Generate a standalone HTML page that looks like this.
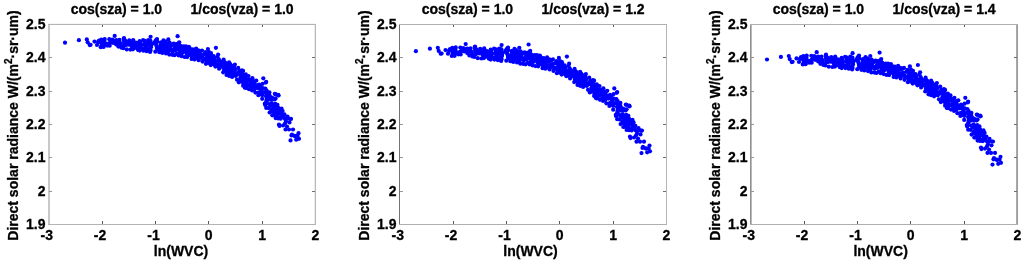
<!DOCTYPE html><html><head><meta charset="utf-8"><style>
html,body{margin:0;padding:0;background:#fff;width:1024px;height:265px;overflow:hidden}
svg{display:block;will-change:transform}
.t{font-family:"Liberation Sans",sans-serif;font-weight:bold;font-size:14px;fill:#000;stroke:#000;stroke-width:0.3px}
</style></head><body>
<svg width="1024" height="265" viewBox="0 0 1024 265" shape-rendering="auto">
<rect width="1024" height="265" fill="#fff"/>
<g fill="#0000ff"><circle cx="98.0" cy="42.1" r="2.1"/><circle cx="99.0" cy="40.5" r="2.1"/><circle cx="101.3" cy="39.5" r="2.1"/><circle cx="104.7" cy="39.0" r="2.1"/><circle cx="109.3" cy="39.2" r="2.1"/><circle cx="112.3" cy="39.5" r="2.1"/><circle cx="116.3" cy="40.1" r="2.1"/><circle cx="119.5" cy="39.9" r="2.1"/><circle cx="123.8" cy="38.8" r="2.1"/><circle cx="129.2" cy="40.4" r="2.1"/><circle cx="133.2" cy="40.8" r="2.1"/><circle cx="133.2" cy="40.0" r="2.1"/><circle cx="139.7" cy="41.1" r="2.1"/><circle cx="143.1" cy="40.2" r="2.1"/><circle cx="148.3" cy="40.1" r="2.1"/><circle cx="150.4" cy="40.8" r="2.1"/><circle cx="155.4" cy="41.2" r="2.1"/><circle cx="156.2" cy="40.2" r="2.1"/><circle cx="161.1" cy="42.3" r="2.1"/><circle cx="165.6" cy="41.7" r="2.1"/><circle cx="169.6" cy="42.7" r="2.1"/><circle cx="173.7" cy="43.7" r="2.1"/><circle cx="177.8" cy="43.7" r="2.1"/><circle cx="178.9" cy="44.4" r="2.1"/><circle cx="183.8" cy="46.4" r="2.1"/><circle cx="186.0" cy="46.4" r="2.1"/><circle cx="188.9" cy="46.9" r="2.1"/><circle cx="192.8" cy="49.4" r="2.1"/><circle cx="196.1" cy="48.6" r="2.1"/><circle cx="202.0" cy="50.5" r="2.1"/><circle cx="205.5" cy="52.2" r="2.1"/><circle cx="209.0" cy="52.2" r="2.1"/><circle cx="211.0" cy="53.1" r="2.1"/><circle cx="213.7" cy="56.2" r="2.1"/><circle cx="218.7" cy="59.1" r="2.1"/><circle cx="223.6" cy="59.6" r="2.1"/><circle cx="229.1" cy="62.4" r="2.1"/><circle cx="234.9" cy="64.5" r="2.1"/><circle cx="238.2" cy="67.9" r="2.1"/><circle cx="241.9" cy="70.3" r="2.1"/><circle cx="243.1" cy="70.9" r="2.1"/><circle cx="245.8" cy="74.4" r="2.1"/><circle cx="248.5" cy="76.0" r="2.1"/><circle cx="252.4" cy="78.2" r="2.1"/><circle cx="256.3" cy="80.6" r="2.1"/><circle cx="259.1" cy="84.5" r="2.1"/><circle cx="260.4" cy="86.3" r="2.1"/><circle cx="262.9" cy="88.1" r="2.1"/><circle cx="266.6" cy="90.5" r="2.1"/><circle cx="269.4" cy="92.3" r="2.1"/><circle cx="274.8" cy="93.8" r="2.1"/><circle cx="278.1" cy="94.8" r="2.1"/><circle cx="278.1" cy="95.2" r="2.1"/><circle cx="275.6" cy="98.4" r="2.1"/><circle cx="274.6" cy="99.4" r="2.1"/><circle cx="275.3" cy="103.8" r="2.1"/><circle cx="277.4" cy="104.8" r="2.1"/><circle cx="281.5" cy="108.6" r="2.1"/><circle cx="282.6" cy="111.0" r="2.1"/><circle cx="284.4" cy="114.3" r="2.1"/><circle cx="287.5" cy="116.5" r="2.1"/><circle cx="291.0" cy="118.9" r="2.1"/><circle cx="290.0" cy="119.0" r="2.1"/><circle cx="287.6" cy="118.5" r="2.1"/><circle cx="284.8" cy="118.8" r="2.1"/><circle cx="280.7" cy="118.7" r="2.1"/><circle cx="278.1" cy="118.5" r="2.1"/><circle cx="275.6" cy="118.1" r="2.1"/><circle cx="272.3" cy="115.3" r="2.1"/><circle cx="269.6" cy="112.5" r="2.1"/><circle cx="266.2" cy="107.9" r="2.1"/><circle cx="265.2" cy="105.0" r="2.1"/><circle cx="264.8" cy="103.7" r="2.1"/><circle cx="262.2" cy="98.8" r="2.1"/><circle cx="258.4" cy="95.2" r="2.1"/><circle cx="255.4" cy="92.6" r="2.1"/><circle cx="252.1" cy="90.5" r="2.1"/><circle cx="249.0" cy="89.2" r="2.1"/><circle cx="246.1" cy="88.0" r="2.1"/><circle cx="244.8" cy="87.7" r="2.1"/><circle cx="243.1" cy="85.7" r="2.1"/><circle cx="238.8" cy="82.3" r="2.1"/><circle cx="237.0" cy="79.7" r="2.1"/><circle cx="232.1" cy="76.9" r="2.1"/><circle cx="229.1" cy="75.9" r="2.1"/><circle cx="226.5" cy="75.0" r="2.1"/><circle cx="223.2" cy="72.3" r="2.1"/><circle cx="219.1" cy="68.7" r="2.1"/><circle cx="215.4" cy="66.6" r="2.1"/><circle cx="210.7" cy="65.1" r="2.1"/><circle cx="205.9" cy="63.8" r="2.1"/><circle cx="202.5" cy="61.6" r="2.1"/><circle cx="198.6" cy="60.2" r="2.1"/><circle cx="194.4" cy="59.4" r="2.1"/><circle cx="191.6" cy="58.9" r="2.1"/><circle cx="187.2" cy="57.1" r="2.1"/><circle cx="184.6" cy="57.0" r="2.1"/><circle cx="181.7" cy="56.2" r="2.1"/><circle cx="178.7" cy="55.4" r="2.1"/><circle cx="174.6" cy="55.2" r="2.1"/><circle cx="172.3" cy="54.8" r="2.1"/><circle cx="169.3" cy="54.6" r="2.1"/><circle cx="166.0" cy="53.5" r="2.1"/><circle cx="162.3" cy="52.9" r="2.1"/><circle cx="159.4" cy="52.2" r="2.1"/><circle cx="155.3" cy="51.7" r="2.1"/><circle cx="150.1" cy="51.9" r="2.1"/><circle cx="146.7" cy="51.2" r="2.1"/><circle cx="143.4" cy="50.7" r="2.1"/><circle cx="139.7" cy="50.6" r="2.1"/><circle cx="137.9" cy="49.8" r="2.1"/><circle cx="132.9" cy="49.3" r="2.1"/><circle cx="130.4" cy="49.6" r="2.1"/><circle cx="126.8" cy="49.4" r="2.1"/><circle cx="123.4" cy="48.2" r="2.1"/><circle cx="121.4" cy="47.7" r="2.1"/><circle cx="118.4" cy="46.6" r="2.1"/><circle cx="109.7" cy="45.7" r="2.1"/><circle cx="107.2" cy="45.6" r="2.1"/><circle cx="103.6" cy="47.0" r="2.1"/><circle cx="100.8" cy="47.2" r="2.1"/><circle cx="97.0" cy="45.0" r="2.1"/><circle cx="194.0" cy="51.8" r="2.1"/><circle cx="266.2" cy="92.4" r="2.1"/><circle cx="269.4" cy="95.1" r="2.1"/><circle cx="150.1" cy="41.2" r="2.1"/><circle cx="196.1" cy="52.8" r="2.1"/><circle cx="268.9" cy="104.0" r="2.1"/><circle cx="239.3" cy="74.3" r="2.1"/><circle cx="224.4" cy="62.0" r="2.1"/><circle cx="193.4" cy="55.3" r="2.1"/><circle cx="184.2" cy="48.7" r="2.1"/><circle cx="133.9" cy="44.7" r="2.1"/><circle cx="163.1" cy="44.7" r="2.1"/><circle cx="222.3" cy="62.2" r="2.1"/><circle cx="118.3" cy="43.0" r="2.1"/><circle cx="194.9" cy="54.1" r="2.1"/><circle cx="193.1" cy="52.6" r="2.1"/><circle cx="124.1" cy="41.5" r="2.1"/><circle cx="271.6" cy="109.9" r="2.1"/><circle cx="226.0" cy="68.4" r="2.1"/><circle cx="103.2" cy="42.4" r="2.1"/><circle cx="283.1" cy="115.7" r="2.1"/><circle cx="214.9" cy="64.2" r="2.1"/><circle cx="144.6" cy="42.5" r="2.1"/><circle cx="148.1" cy="44.1" r="2.1"/><circle cx="234.9" cy="74.0" r="2.1"/><circle cx="195.4" cy="56.2" r="2.1"/><circle cx="251.6" cy="82.3" r="2.1"/><circle cx="186.3" cy="50.6" r="2.1"/><circle cx="134.9" cy="47.6" r="2.1"/><circle cx="218.7" cy="62.4" r="2.1"/><circle cx="191.9" cy="56.6" r="2.1"/><circle cx="185.8" cy="52.0" r="2.1"/><circle cx="220.5" cy="66.8" r="2.1"/><circle cx="182.7" cy="51.7" r="2.1"/><circle cx="143.9" cy="49.5" r="2.1"/><circle cx="266.4" cy="101.6" r="2.1"/><circle cx="241.8" cy="75.5" r="2.1"/><circle cx="241.1" cy="74.4" r="2.1"/><circle cx="140.5" cy="45.9" r="2.1"/><circle cx="250.2" cy="80.3" r="2.1"/><circle cx="207.7" cy="62.5" r="2.1"/><circle cx="163.7" cy="48.9" r="2.1"/><circle cx="102.0" cy="40.6" r="2.1"/><circle cx="274.8" cy="114.9" r="2.1"/><circle cx="219.6" cy="60.9" r="2.1"/><circle cx="201.3" cy="55.0" r="2.1"/><circle cx="218.9" cy="66.5" r="2.1"/><circle cx="247.3" cy="84.9" r="2.1"/><circle cx="198.3" cy="50.4" r="2.1"/><circle cx="239.5" cy="73.0" r="2.1"/><circle cx="262.7" cy="93.1" r="2.1"/><circle cx="254.3" cy="89.4" r="2.1"/><circle cx="179.5" cy="52.5" r="2.1"/><circle cx="225.0" cy="67.0" r="2.1"/><circle cx="277.6" cy="107.5" r="2.1"/><circle cx="164.0" cy="49.8" r="2.1"/><circle cx="204.7" cy="59.0" r="2.1"/><circle cx="142.1" cy="48.7" r="2.1"/><circle cx="187.5" cy="49.1" r="2.1"/><circle cx="224.3" cy="67.6" r="2.1"/><circle cx="206.1" cy="58.4" r="2.1"/><circle cx="254.5" cy="84.5" r="2.1"/><circle cx="176.9" cy="45.6" r="2.1"/><circle cx="207.0" cy="61.3" r="2.1"/><circle cx="213.7" cy="62.6" r="2.1"/><circle cx="208.0" cy="59.7" r="2.1"/><circle cx="164.1" cy="44.2" r="2.1"/><circle cx="187.2" cy="54.2" r="2.1"/><circle cx="125.5" cy="40.9" r="2.1"/><circle cx="207.1" cy="58.7" r="2.1"/><circle cx="112.7" cy="41.4" r="2.1"/><circle cx="227.1" cy="69.6" r="2.1"/><circle cx="183.9" cy="50.3" r="2.1"/><circle cx="272.5" cy="111.6" r="2.1"/><circle cx="146.5" cy="47.4" r="2.1"/><circle cx="190.3" cy="51.1" r="2.1"/><circle cx="142.9" cy="49.0" r="2.1"/><circle cx="260.7" cy="88.9" r="2.1"/><circle cx="139.6" cy="41.9" r="2.1"/><circle cx="254.7" cy="85.2" r="2.1"/><circle cx="135.9" cy="42.6" r="2.1"/><circle cx="239.4" cy="70.8" r="2.1"/><circle cx="168.0" cy="50.7" r="2.1"/><circle cx="132.0" cy="45.7" r="2.1"/><circle cx="102.3" cy="45.1" r="2.1"/><circle cx="266.0" cy="96.2" r="2.1"/><circle cx="151.0" cy="47.2" r="2.1"/><circle cx="175.5" cy="48.5" r="2.1"/><circle cx="219.8" cy="67.2" r="2.1"/><circle cx="127.3" cy="42.7" r="2.1"/><circle cx="244.6" cy="76.3" r="2.1"/><circle cx="245.8" cy="85.4" r="2.1"/><circle cx="230.1" cy="69.3" r="2.1"/><circle cx="145.0" cy="40.8" r="2.1"/><circle cx="278.0" cy="107.5" r="2.1"/><circle cx="226.0" cy="65.3" r="2.1"/><circle cx="194.9" cy="55.9" r="2.1"/><circle cx="184.7" cy="48.0" r="2.1"/><circle cx="207.2" cy="62.8" r="2.1"/><circle cx="172.5" cy="44.3" r="2.1"/><circle cx="154.3" cy="42.6" r="2.1"/><circle cx="268.6" cy="108.1" r="2.1"/><circle cx="225.9" cy="66.1" r="2.1"/><circle cx="104.3" cy="40.5" r="2.1"/><circle cx="231.9" cy="69.6" r="2.1"/><circle cx="151.3" cy="44.6" r="2.1"/><circle cx="202.5" cy="57.7" r="2.1"/><circle cx="176.7" cy="53.8" r="2.1"/><circle cx="157.0" cy="48.4" r="2.1"/><circle cx="167.2" cy="51.0" r="2.1"/><circle cx="181.1" cy="52.8" r="2.1"/><circle cx="144.4" cy="48.6" r="2.1"/><circle cx="113.9" cy="40.5" r="2.1"/><circle cx="182.1" cy="52.9" r="2.1"/><circle cx="134.5" cy="44.2" r="2.1"/><circle cx="222.7" cy="61.8" r="2.1"/><circle cx="228.8" cy="74.0" r="2.1"/><circle cx="145.9" cy="45.0" r="2.1"/><circle cx="200.0" cy="57.9" r="2.1"/><circle cx="172.9" cy="51.3" r="2.1"/><circle cx="234.4" cy="72.3" r="2.1"/><circle cx="275.4" cy="108.9" r="2.1"/><circle cx="170.7" cy="49.1" r="2.1"/><circle cx="163.2" cy="49.6" r="2.1"/><circle cx="229.0" cy="69.5" r="2.1"/><circle cx="189.2" cy="50.2" r="2.1"/><circle cx="266.6" cy="100.9" r="2.1"/><circle cx="240.7" cy="79.1" r="2.1"/><circle cx="220.3" cy="66.0" r="2.1"/><circle cx="164.5" cy="48.4" r="2.1"/><circle cx="207.4" cy="62.1" r="2.1"/><circle cx="129.4" cy="42.7" r="2.1"/><circle cx="163.0" cy="48.4" r="2.1"/><circle cx="228.9" cy="65.0" r="2.1"/><circle cx="213.0" cy="58.4" r="2.1"/><circle cx="160.6" cy="44.9" r="2.1"/><circle cx="213.8" cy="64.4" r="2.1"/><circle cx="220.5" cy="65.5" r="2.1"/><circle cx="194.9" cy="56.3" r="2.1"/><circle cx="180.4" cy="45.8" r="2.1"/><circle cx="268.7" cy="97.4" r="2.1"/><circle cx="148.0" cy="42.9" r="2.1"/><circle cx="266.9" cy="96.3" r="2.1"/><circle cx="176.4" cy="49.0" r="2.1"/><circle cx="135.1" cy="46.8" r="2.1"/><circle cx="235.3" cy="69.6" r="2.1"/><circle cx="228.5" cy="63.7" r="2.1"/><circle cx="139.6" cy="48.9" r="2.1"/><circle cx="232.0" cy="74.2" r="2.1"/><circle cx="229.1" cy="67.4" r="2.1"/><circle cx="198.0" cy="56.8" r="2.1"/><circle cx="251.0" cy="88.0" r="2.1"/><circle cx="160.7" cy="43.0" r="2.1"/><circle cx="272.2" cy="99.5" r="2.1"/><circle cx="116.2" cy="44.5" r="2.1"/><circle cx="243.4" cy="83.7" r="2.1"/><circle cx="253.0" cy="85.9" r="2.1"/><circle cx="210.0" cy="63.4" r="2.1"/><circle cx="238.5" cy="72.6" r="2.1"/><circle cx="242.8" cy="78.1" r="2.1"/><circle cx="154.6" cy="42.9" r="2.1"/><circle cx="125.5" cy="44.9" r="2.1"/><circle cx="136.1" cy="47.7" r="2.1"/><circle cx="209.3" cy="56.5" r="2.1"/><circle cx="175.8" cy="44.4" r="2.1"/><circle cx="163.6" cy="48.8" r="2.1"/><circle cx="164.5" cy="50.6" r="2.1"/><circle cx="272.9" cy="98.5" r="2.1"/><circle cx="175.7" cy="44.4" r="2.1"/><circle cx="217.2" cy="61.2" r="2.1"/><circle cx="233.2" cy="73.6" r="2.1"/><circle cx="270.3" cy="97.2" r="2.1"/><circle cx="159.8" cy="48.5" r="2.1"/><circle cx="150.5" cy="50.5" r="2.1"/><circle cx="157.3" cy="41.6" r="2.1"/><circle cx="157.8" cy="49.7" r="2.1"/><circle cx="244.1" cy="75.9" r="2.1"/><circle cx="243.5" cy="78.4" r="2.1"/><circle cx="271.7" cy="111.2" r="2.1"/><circle cx="150.1" cy="42.7" r="2.1"/><circle cx="140.1" cy="44.9" r="2.1"/><circle cx="219.2" cy="65.2" r="2.1"/><circle cx="254.2" cy="81.4" r="2.1"/><circle cx="189.6" cy="48.2" r="2.1"/><circle cx="234.6" cy="74.6" r="2.1"/><circle cx="281.4" cy="112.9" r="2.1"/><circle cx="121.4" cy="46.2" r="2.1"/><circle cx="103.9" cy="44.9" r="2.1"/><circle cx="103.8" cy="41.2" r="2.1"/><circle cx="111.5" cy="41.7" r="2.1"/><circle cx="185.8" cy="47.3" r="2.1"/><circle cx="180.1" cy="46.3" r="2.1"/><circle cx="165.2" cy="44.9" r="2.1"/><circle cx="274.5" cy="106.1" r="2.1"/><circle cx="251.4" cy="81.0" r="2.1"/><circle cx="155.7" cy="42.5" r="2.1"/><circle cx="166.9" cy="48.9" r="2.1"/><circle cx="131.1" cy="45.4" r="2.1"/><circle cx="230.9" cy="73.8" r="2.1"/><circle cx="124.4" cy="45.2" r="2.1"/><circle cx="140.0" cy="42.5" r="2.1"/><circle cx="181.9" cy="46.7" r="2.1"/><circle cx="190.0" cy="51.5" r="2.1"/><circle cx="119.5" cy="42.8" r="2.1"/><circle cx="166.9" cy="47.1" r="2.1"/><circle cx="240.9" cy="81.4" r="2.1"/><circle cx="182.1" cy="48.8" r="2.1"/><circle cx="181.7" cy="51.6" r="2.1"/><circle cx="256.7" cy="86.7" r="2.1"/><circle cx="107.1" cy="44.1" r="2.1"/><circle cx="128.1" cy="44.7" r="2.1"/><circle cx="192.3" cy="52.7" r="2.1"/><circle cx="231.5" cy="68.9" r="2.1"/><circle cx="141.5" cy="44.9" r="2.1"/><circle cx="113.8" cy="41.2" r="2.1"/><circle cx="278.2" cy="109.4" r="2.1"/><circle cx="186.5" cy="53.5" r="2.1"/><circle cx="277.4" cy="114.1" r="2.1"/><circle cx="217.2" cy="61.9" r="2.1"/><circle cx="117.2" cy="43.0" r="2.1"/><circle cx="214.3" cy="61.0" r="2.1"/><circle cx="170.2" cy="46.3" r="2.1"/><circle cx="269.5" cy="99.4" r="2.1"/><circle cx="224.4" cy="68.5" r="2.1"/><circle cx="145.0" cy="45.5" r="2.1"/><circle cx="110.2" cy="42.8" r="2.1"/><circle cx="271.9" cy="97.6" r="2.1"/><circle cx="197.2" cy="51.6" r="2.1"/><circle cx="113.2" cy="42.9" r="2.1"/><circle cx="217.0" cy="62.2" r="2.1"/><circle cx="188.4" cy="53.5" r="2.1"/><circle cx="129.4" cy="43.2" r="2.1"/><circle cx="231.2" cy="69.5" r="2.1"/><circle cx="132.0" cy="46.7" r="2.1"/><circle cx="271.5" cy="103.1" r="2.1"/><circle cx="274.0" cy="115.1" r="2.1"/><circle cx="181.1" cy="53.1" r="2.1"/><circle cx="171.7" cy="44.9" r="2.1"/><circle cx="266.7" cy="99.2" r="2.1"/><circle cx="103.8" cy="41.8" r="2.1"/><circle cx="249.7" cy="79.6" r="2.1"/><circle cx="216.4" cy="63.2" r="2.1"/><circle cx="150.4" cy="46.6" r="2.1"/><circle cx="162.0" cy="50.7" r="2.1"/><circle cx="264.7" cy="92.3" r="2.1"/><circle cx="204.3" cy="54.1" r="2.1"/><circle cx="259.7" cy="92.3" r="2.1"/><circle cx="149.2" cy="49.4" r="2.1"/><circle cx="146.2" cy="48.9" r="2.1"/><circle cx="99.3" cy="42.0" r="2.1"/><circle cx="131.7" cy="42.9" r="2.1"/><circle cx="180.1" cy="50.9" r="2.1"/><circle cx="261.7" cy="90.5" r="2.1"/><circle cx="161.8" cy="45.6" r="2.1"/><circle cx="196.0" cy="51.0" r="2.1"/><circle cx="227.0" cy="72.9" r="2.1"/><circle cx="135.1" cy="44.4" r="2.1"/><circle cx="180.4" cy="50.0" r="2.1"/><circle cx="191.7" cy="53.2" r="2.1"/><circle cx="188.8" cy="48.8" r="2.1"/><circle cx="211.1" cy="55.5" r="2.1"/><circle cx="248.8" cy="79.8" r="2.1"/><circle cx="149.6" cy="42.2" r="2.1"/><circle cx="162.1" cy="46.1" r="2.1"/><circle cx="179.8" cy="53.0" r="2.1"/><circle cx="212.5" cy="58.2" r="2.1"/><circle cx="215.6" cy="61.4" r="2.1"/><circle cx="151.8" cy="44.2" r="2.1"/><circle cx="174.8" cy="50.5" r="2.1"/><circle cx="188.6" cy="53.5" r="2.1"/><circle cx="207.9" cy="55.5" r="2.1"/><circle cx="278.6" cy="117.2" r="2.1"/><circle cx="109.3" cy="43.1" r="2.1"/><circle cx="273.0" cy="108.8" r="2.1"/><circle cx="232.8" cy="75.4" r="2.1"/><circle cx="232.0" cy="69.8" r="2.1"/><circle cx="224.8" cy="70.6" r="2.1"/><circle cx="172.1" cy="49.5" r="2.1"/><circle cx="246.1" cy="84.1" r="2.1"/><circle cx="201.3" cy="55.1" r="2.1"/><circle cx="144.9" cy="44.1" r="2.1"/><circle cx="145.7" cy="44.3" r="2.1"/><circle cx="160.6" cy="46.1" r="2.1"/><circle cx="162.1" cy="47.7" r="2.1"/><circle cx="168.3" cy="52.0" r="2.1"/><circle cx="177.4" cy="47.3" r="2.1"/><circle cx="150.8" cy="46.2" r="2.1"/><circle cx="150.3" cy="49.8" r="2.1"/><circle cx="279.5" cy="111.1" r="2.1"/><circle cx="139.8" cy="43.9" r="2.1"/><circle cx="116.0" cy="42.5" r="2.1"/><circle cx="193.3" cy="52.6" r="2.1"/><circle cx="210.7" cy="61.8" r="2.1"/><circle cx="193.1" cy="56.0" r="2.1"/><circle cx="254.4" cy="83.1" r="2.1"/><circle cx="261.2" cy="92.3" r="2.1"/><circle cx="207.2" cy="54.6" r="2.1"/><circle cx="162.1" cy="45.6" r="2.1"/><circle cx="248.5" cy="85.5" r="2.1"/><circle cx="114.7" cy="41.8" r="2.1"/><circle cx="252.5" cy="86.4" r="2.1"/><circle cx="160.7" cy="50.0" r="2.1"/><circle cx="207.0" cy="59.9" r="2.1"/><circle cx="276.2" cy="114.5" r="2.1"/><circle cx="146.9" cy="45.7" r="2.1"/><circle cx="225.2" cy="62.5" r="2.1"/><circle cx="274.4" cy="111.8" r="2.1"/><circle cx="167.7" cy="46.0" r="2.1"/><circle cx="206.3" cy="54.2" r="2.1"/><circle cx="104.7" cy="42.6" r="2.1"/><circle cx="253.8" cy="86.2" r="2.1"/><circle cx="224.0" cy="69.5" r="2.1"/><circle cx="125.2" cy="45.1" r="2.1"/><circle cx="205.9" cy="58.2" r="2.1"/><circle cx="281.7" cy="115.9" r="2.1"/><circle cx="137.8" cy="46.8" r="2.1"/><circle cx="168.0" cy="47.0" r="2.1"/><circle cx="250.8" cy="83.4" r="2.1"/><circle cx="277.0" cy="110.2" r="2.1"/><circle cx="199.5" cy="51.6" r="2.1"/><circle cx="245.6" cy="75.9" r="2.1"/><circle cx="228.5" cy="72.2" r="2.1"/><circle cx="157.5" cy="47.4" r="2.1"/><circle cx="267.9" cy="94.6" r="2.1"/><circle cx="137.4" cy="46.0" r="2.1"/><circle cx="270.6" cy="106.0" r="2.1"/><circle cx="186.0" cy="49.1" r="2.1"/><circle cx="220.9" cy="65.4" r="2.1"/><circle cx="235.1" cy="72.8" r="2.1"/><circle cx="256.8" cy="85.4" r="2.1"/><circle cx="223.8" cy="66.5" r="2.1"/><circle cx="196.0" cy="52.0" r="2.1"/><circle cx="176.1" cy="50.0" r="2.1"/><circle cx="225.0" cy="63.5" r="2.1"/><circle cx="174.9" cy="47.6" r="2.1"/><circle cx="245.7" cy="81.3" r="2.1"/><circle cx="250.1" cy="84.3" r="2.1"/><circle cx="158.3" cy="49.2" r="2.1"/><circle cx="231.7" cy="70.4" r="2.1"/><circle cx="272.1" cy="98.7" r="2.1"/><circle cx="230.0" cy="74.3" r="2.1"/><circle cx="273.7" cy="106.2" r="2.1"/><circle cx="149.8" cy="41.8" r="2.1"/><circle cx="212.9" cy="61.9" r="2.1"/><circle cx="235.8" cy="76.0" r="2.1"/><circle cx="191.7" cy="51.7" r="2.1"/><circle cx="232.3" cy="65.9" r="2.1"/><circle cx="124.4" cy="43.6" r="2.1"/><circle cx="137.2" cy="43.4" r="2.1"/><circle cx="227.1" cy="67.7" r="2.1"/><circle cx="244.3" cy="76.1" r="2.1"/><circle cx="275.7" cy="112.7" r="2.1"/><circle cx="124.0" cy="40.1" r="2.1"/><circle cx="258.5" cy="92.6" r="2.1"/><circle cx="219.4" cy="62.9" r="2.1"/><circle cx="272.6" cy="104.3" r="2.1"/><circle cx="197.1" cy="56.5" r="2.1"/><circle cx="181.3" cy="47.7" r="2.1"/><circle cx="157.1" cy="47.3" r="2.1"/><circle cx="257.5" cy="88.2" r="2.1"/><circle cx="240.4" cy="77.8" r="2.1"/><circle cx="170.9" cy="45.4" r="2.1"/><circle cx="200.7" cy="51.1" r="2.1"/><circle cx="143.6" cy="49.3" r="2.1"/><circle cx="101.6" cy="44.9" r="2.1"/><circle cx="246.5" cy="81.5" r="2.1"/><circle cx="283.6" cy="117.1" r="2.1"/><circle cx="156.5" cy="45.9" r="2.1"/><circle cx="146.7" cy="49.6" r="2.1"/><circle cx="188.1" cy="48.8" r="2.1"/><circle cx="279.6" cy="113.1" r="2.1"/><circle cx="105.7" cy="44.3" r="2.1"/><circle cx="245.1" cy="76.1" r="2.1"/><circle cx="246.8" cy="79.8" r="2.1"/><circle cx="251.8" cy="82.2" r="2.1"/><circle cx="209.8" cy="56.8" r="2.1"/><circle cx="210.0" cy="63.6" r="2.1"/><circle cx="219.3" cy="61.0" r="2.1"/><circle cx="200.3" cy="55.6" r="2.1"/><circle cx="245.7" cy="78.3" r="2.1"/><circle cx="228.9" cy="64.9" r="2.1"/><circle cx="276.8" cy="108.4" r="2.1"/><circle cx="161.2" cy="49.5" r="2.1"/><circle cx="234.9" cy="75.1" r="2.1"/><circle cx="156.0" cy="44.3" r="2.1"/><circle cx="198.2" cy="52.3" r="2.1"/><circle cx="166.9" cy="43.5" r="2.1"/><circle cx="267.2" cy="93.6" r="2.1"/><circle cx="227.2" cy="65.3" r="2.1"/><circle cx="279.3" cy="111.4" r="2.1"/><circle cx="166.5" cy="43.3" r="2.1"/><circle cx="189.8" cy="48.8" r="2.1"/><circle cx="133.5" cy="48.1" r="2.1"/><circle cx="228.4" cy="67.2" r="2.1"/><circle cx="227.0" cy="71.1" r="2.1"/><circle cx="225.6" cy="65.3" r="2.1"/><circle cx="209.2" cy="57.9" r="2.1"/><circle cx="196.5" cy="58.0" r="2.1"/><circle cx="137.3" cy="47.8" r="2.1"/><circle cx="283.0" cy="116.4" r="2.1"/><circle cx="179.3" cy="49.2" r="2.1"/><circle cx="203.3" cy="59.8" r="2.1"/><circle cx="102.7" cy="44.0" r="2.1"/><circle cx="229.6" cy="69.9" r="2.1"/><circle cx="270.8" cy="105.1" r="2.1"/><circle cx="140.3" cy="48.2" r="2.1"/><circle cx="244.9" cy="81.9" r="2.1"/><circle cx="165.4" cy="45.2" r="2.1"/><circle cx="238.2" cy="74.1" r="2.1"/><circle cx="234.2" cy="67.0" r="2.1"/><circle cx="275.4" cy="110.8" r="2.1"/><circle cx="216.2" cy="63.9" r="2.1"/><circle cx="246.2" cy="84.4" r="2.1"/><circle cx="232.2" cy="70.6" r="2.1"/><circle cx="211.4" cy="58.6" r="2.1"/><circle cx="268.1" cy="97.7" r="2.1"/><circle cx="195.5" cy="55.0" r="2.1"/><circle cx="261.5" cy="94.6" r="2.1"/><circle cx="162.7" cy="47.7" r="2.1"/><circle cx="184.2" cy="48.2" r="2.1"/><circle cx="268.6" cy="93.9" r="2.1"/><circle cx="223.4" cy="61.9" r="2.1"/><circle cx="189.4" cy="54.6" r="2.1"/><circle cx="248.5" cy="79.6" r="2.1"/><circle cx="243.8" cy="81.1" r="2.1"/><circle cx="230.2" cy="64.2" r="2.1"/><circle cx="250.3" cy="82.0" r="2.1"/><circle cx="262.4" cy="95.1" r="2.1"/><circle cx="172.0" cy="51.0" r="2.1"/><circle cx="223.8" cy="65.7" r="2.1"/><circle cx="133.4" cy="44.7" r="2.1"/><circle cx="175.4" cy="44.8" r="2.1"/><circle cx="131.6" cy="43.3" r="2.1"/><circle cx="214.3" cy="58.3" r="2.1"/><circle cx="281.8" cy="115.3" r="2.1"/><circle cx="227.7" cy="73.4" r="2.1"/><circle cx="120.7" cy="43.3" r="2.1"/><circle cx="271.6" cy="111.0" r="2.1"/><circle cx="235.2" cy="74.1" r="2.1"/><circle cx="283.2" cy="115.9" r="2.1"/><circle cx="197.7" cy="51.0" r="2.1"/><circle cx="190.7" cy="55.2" r="2.1"/><circle cx="243.5" cy="76.1" r="2.1"/><circle cx="247.4" cy="80.8" r="2.1"/><circle cx="242.2" cy="72.7" r="2.1"/><circle cx="260.1" cy="92.3" r="2.1"/><circle cx="139.8" cy="43.7" r="2.1"/><circle cx="241.4" cy="74.4" r="2.1"/><circle cx="198.5" cy="55.9" r="2.1"/><circle cx="275.7" cy="115.7" r="2.1"/><circle cx="65.0" cy="42.7" r="2.1"/><circle cx="78.9" cy="40.2" r="2.1"/><circle cx="86.8" cy="39.4" r="2.1"/><circle cx="87.7" cy="42.3" r="2.1"/><circle cx="89.7" cy="45.1" r="2.1"/><circle cx="94.5" cy="41.6" r="2.1"/><circle cx="90.6" cy="44.8" r="2.1"/><circle cx="114.7" cy="35.9" r="2.1"/><circle cx="124.0" cy="38.2" r="2.1"/><circle cx="150.6" cy="36.8" r="2.1"/><circle cx="157.0" cy="39.0" r="2.1"/><circle cx="163.5" cy="40.3" r="2.1"/><circle cx="168.3" cy="39.4" r="2.1"/><circle cx="177.6" cy="36.2" r="2.1"/><circle cx="179.2" cy="42.3" r="2.1"/><circle cx="207.9" cy="49.1" r="2.1"/><circle cx="215.9" cy="47.8" r="2.1"/><circle cx="218.1" cy="54.6" r="2.1"/><circle cx="217.5" cy="56.8" r="2.1"/><circle cx="263.3" cy="78.3" r="2.1"/><circle cx="266.2" cy="81.9" r="2.1"/><circle cx="262.6" cy="83.8" r="2.1"/><circle cx="265.7" cy="82.6" r="2.1"/><circle cx="265.4" cy="88.7" r="2.1"/><circle cx="278.6" cy="95.5" r="2.1"/><circle cx="275.4" cy="94.2" r="2.1"/><circle cx="286.0" cy="121.5" r="2.1"/><circle cx="289.5" cy="122.5" r="2.1"/><circle cx="285.0" cy="123.5" r="2.1"/><circle cx="279.0" cy="124.5" r="2.1"/><circle cx="279.5" cy="126.0" r="2.1"/><circle cx="283.0" cy="125.5" r="2.1"/><circle cx="287.0" cy="126.5" r="2.1"/><circle cx="285.5" cy="129.5" r="2.1"/><circle cx="289.0" cy="129.5" r="2.1"/><circle cx="293.0" cy="129.5" r="2.1"/><circle cx="298.5" cy="133.2" r="2.1"/><circle cx="292.0" cy="134.5" r="2.1"/><circle cx="295.0" cy="136.0" r="2.1"/><circle cx="291.5" cy="135.5" r="2.1"/><circle cx="294.8" cy="135.9" r="2.1"/><circle cx="297.6" cy="135.9" r="2.1"/><circle cx="296.2" cy="139.7" r="2.1"/><circle cx="299.0" cy="138.8" r="2.1"/><circle cx="290.5" cy="140.4" r="2.1"/></g>
<g shape-rendering="crispEdges"><rect x="48" y="23" width="1" height="202" fill="#c8c8c8"/><rect x="49" y="23" width="1" height="202" fill="#c8c8c8"/><rect x="314" y="23" width="1" height="202" fill="#ebebeb"/><rect x="315" y="23" width="1" height="202" fill="#b9b9b9"/><rect x="48" y="23" width="268" height="1" fill="#f5f5f5"/><rect x="48" y="24" width="268" height="1" fill="#b4b4b4"/><rect x="48" y="224" width="268" height="1" fill="#b4b4b4"/></g>
<g fill="#5a5a5a" shape-rendering="crispEdges"><rect x="102" y="221" width="1" height="3"/><rect x="102" y="25" width="1" height="2"/><rect x="155" y="221" width="1" height="3"/><rect x="155" y="25" width="1" height="2"/><rect x="208" y="221" width="1" height="3"/><rect x="208" y="25" width="1" height="2"/><rect x="262" y="221" width="1" height="3"/><rect x="262" y="25" width="1" height="2"/></g>
<g shape-rendering="crispEdges"><rect x="49" y="191" width="3" height="1" fill="#969696"/><rect x="312" y="191" width="3" height="1" fill="#6e6e6e"/><rect x="49" y="157" width="3" height="1" fill="#969696"/><rect x="312" y="157" width="3" height="1" fill="#6e6e6e"/><rect x="49" y="124" width="3" height="1" fill="#969696"/><rect x="312" y="124" width="3" height="1" fill="#6e6e6e"/><rect x="49" y="91" width="3" height="1" fill="#969696"/><rect x="312" y="91" width="3" height="1" fill="#6e6e6e"/><rect x="49" y="57" width="3" height="1" fill="#969696"/><rect x="312" y="57" width="3" height="1" fill="#6e6e6e"/></g>
<text x="46.7" y="240" text-anchor="middle" class="t">-3</text>
<text x="100.1" y="240" text-anchor="middle" class="t">-2</text>
<text x="153.5" y="240" text-anchor="middle" class="t">-1</text>
<text x="208.7" y="240" text-anchor="middle" class="t">0</text>
<text x="262.1" y="240" text-anchor="middle" class="t">1</text>
<text x="315.5" y="240" text-anchor="middle" class="t">2</text>
<text x="45.5" y="229.0" text-anchor="end" class="t">1.9</text>
<text x="45.5" y="195.7" text-anchor="end" class="t">2</text>
<text x="45.5" y="162.3" text-anchor="end" class="t">2.1</text>
<text x="45.5" y="129.0" text-anchor="end" class="t">2.2</text>
<text x="45.5" y="95.7" text-anchor="end" class="t">2.3</text>
<text x="45.5" y="62.3" text-anchor="end" class="t">2.4</text>
<text x="45.5" y="29.0" text-anchor="end" class="t">2.5</text>
<text x="181.0" y="256.4" text-anchor="middle" class="t">ln(WVC)</text>
<text x="70.7" y="14.2" class="t">cos(sza) = 1.0</text>
<text x="190.5" y="14.2" class="t">1/cos(vza) = 1.0</text>
<text transform="translate(17.9,125.5) rotate(-90)" text-anchor="middle" class="t">Direct solar radiance W/(m<tspan dy="-6" font-size="10">2</tspan><tspan dy="6">·sr·um)</tspan></text>
<g fill="#0000ff"><circle cx="449.0" cy="50.7" r="2.1"/><circle cx="450.0" cy="49.0" r="2.1"/><circle cx="452.3" cy="47.9" r="2.1"/><circle cx="455.7" cy="47.4" r="2.1"/><circle cx="460.3" cy="47.6" r="2.1"/><circle cx="463.3" cy="48.0" r="2.1"/><circle cx="467.3" cy="48.5" r="2.1"/><circle cx="470.5" cy="48.4" r="2.1"/><circle cx="474.8" cy="47.2" r="2.1"/><circle cx="480.2" cy="48.9" r="2.1"/><circle cx="484.2" cy="49.3" r="2.1"/><circle cx="484.2" cy="48.4" r="2.1"/><circle cx="490.7" cy="49.7" r="2.1"/><circle cx="494.1" cy="48.7" r="2.1"/><circle cx="499.3" cy="48.6" r="2.1"/><circle cx="501.4" cy="49.3" r="2.1"/><circle cx="506.4" cy="49.7" r="2.1"/><circle cx="507.2" cy="48.7" r="2.1"/><circle cx="512.1" cy="50.8" r="2.1"/><circle cx="516.6" cy="50.3" r="2.1"/><circle cx="520.6" cy="51.3" r="2.1"/><circle cx="524.7" cy="52.3" r="2.1"/><circle cx="528.8" cy="52.3" r="2.1"/><circle cx="529.9" cy="53.0" r="2.1"/><circle cx="534.8" cy="55.1" r="2.1"/><circle cx="537.0" cy="55.2" r="2.1"/><circle cx="539.9" cy="55.7" r="2.1"/><circle cx="543.8" cy="58.2" r="2.1"/><circle cx="547.1" cy="57.4" r="2.1"/><circle cx="553.0" cy="59.4" r="2.1"/><circle cx="556.5" cy="61.2" r="2.1"/><circle cx="560.0" cy="61.1" r="2.1"/><circle cx="562.0" cy="62.2" r="2.1"/><circle cx="564.7" cy="65.4" r="2.1"/><circle cx="569.7" cy="68.4" r="2.1"/><circle cx="574.6" cy="68.9" r="2.1"/><circle cx="580.1" cy="71.8" r="2.1"/><circle cx="585.9" cy="74.0" r="2.1"/><circle cx="589.2" cy="77.5" r="2.1"/><circle cx="592.9" cy="80.0" r="2.1"/><circle cx="594.1" cy="80.7" r="2.1"/><circle cx="596.8" cy="84.3" r="2.1"/><circle cx="599.5" cy="86.0" r="2.1"/><circle cx="603.4" cy="88.3" r="2.1"/><circle cx="607.3" cy="90.8" r="2.1"/><circle cx="610.1" cy="94.8" r="2.1"/><circle cx="611.4" cy="96.7" r="2.1"/><circle cx="613.9" cy="98.6" r="2.1"/><circle cx="617.6" cy="101.1" r="2.1"/><circle cx="620.4" cy="102.9" r="2.1"/><circle cx="625.8" cy="104.5" r="2.1"/><circle cx="629.1" cy="105.6" r="2.1"/><circle cx="629.1" cy="105.9" r="2.1"/><circle cx="626.6" cy="109.3" r="2.1"/><circle cx="625.6" cy="110.4" r="2.1"/><circle cx="626.3" cy="114.9" r="2.1"/><circle cx="628.4" cy="115.9" r="2.1"/><circle cx="632.5" cy="119.9" r="2.1"/><circle cx="633.6" cy="122.4" r="2.1"/><circle cx="635.4" cy="125.9" r="2.1"/><circle cx="638.5" cy="128.2" r="2.1"/><circle cx="642.0" cy="130.6" r="2.1"/><circle cx="641.0" cy="130.7" r="2.1"/><circle cx="638.6" cy="130.3" r="2.1"/><circle cx="635.8" cy="130.5" r="2.1"/><circle cx="631.7" cy="130.4" r="2.1"/><circle cx="629.1" cy="130.2" r="2.1"/><circle cx="626.6" cy="129.9" r="2.1"/><circle cx="623.3" cy="127.0" r="2.1"/><circle cx="620.6" cy="124.1" r="2.1"/><circle cx="617.2" cy="119.2" r="2.1"/><circle cx="616.2" cy="116.2" r="2.1"/><circle cx="615.8" cy="114.8" r="2.1"/><circle cx="613.2" cy="109.7" r="2.1"/><circle cx="609.4" cy="106.0" r="2.1"/><circle cx="606.4" cy="103.3" r="2.1"/><circle cx="603.1" cy="101.0" r="2.1"/><circle cx="600.0" cy="99.8" r="2.1"/><circle cx="597.1" cy="98.4" r="2.1"/><circle cx="595.8" cy="98.1" r="2.1"/><circle cx="594.1" cy="96.0" r="2.1"/><circle cx="589.8" cy="92.5" r="2.1"/><circle cx="588.0" cy="89.8" r="2.1"/><circle cx="583.1" cy="86.9" r="2.1"/><circle cx="580.1" cy="85.8" r="2.1"/><circle cx="577.5" cy="85.0" r="2.1"/><circle cx="574.2" cy="82.1" r="2.1"/><circle cx="570.1" cy="78.4" r="2.1"/><circle cx="566.4" cy="76.2" r="2.1"/><circle cx="561.7" cy="74.6" r="2.1"/><circle cx="556.9" cy="73.2" r="2.1"/><circle cx="553.5" cy="70.9" r="2.1"/><circle cx="549.6" cy="69.5" r="2.1"/><circle cx="545.4" cy="68.7" r="2.1"/><circle cx="542.6" cy="68.2" r="2.1"/><circle cx="538.2" cy="66.3" r="2.1"/><circle cx="535.6" cy="66.1" r="2.1"/><circle cx="532.7" cy="65.4" r="2.1"/><circle cx="529.7" cy="64.5" r="2.1"/><circle cx="525.6" cy="64.3" r="2.1"/><circle cx="523.3" cy="63.9" r="2.1"/><circle cx="520.3" cy="63.7" r="2.1"/><circle cx="517.0" cy="62.5" r="2.1"/><circle cx="513.3" cy="61.9" r="2.1"/><circle cx="510.4" cy="61.2" r="2.1"/><circle cx="506.3" cy="60.7" r="2.1"/><circle cx="501.1" cy="60.9" r="2.1"/><circle cx="497.7" cy="60.1" r="2.1"/><circle cx="494.4" cy="59.6" r="2.1"/><circle cx="490.7" cy="59.6" r="2.1"/><circle cx="488.9" cy="58.7" r="2.1"/><circle cx="483.9" cy="58.1" r="2.1"/><circle cx="481.4" cy="58.5" r="2.1"/><circle cx="477.8" cy="58.2" r="2.1"/><circle cx="474.4" cy="57.0" r="2.1"/><circle cx="472.4" cy="56.5" r="2.1"/><circle cx="469.4" cy="55.4" r="2.1"/><circle cx="460.7" cy="54.4" r="2.1"/><circle cx="458.2" cy="54.3" r="2.1"/><circle cx="454.6" cy="55.8" r="2.1"/><circle cx="451.8" cy="56.0" r="2.1"/><circle cx="448.0" cy="53.7" r="2.1"/><circle cx="545.0" cy="60.8" r="2.1"/><circle cx="617.2" cy="103.0" r="2.1"/><circle cx="620.4" cy="105.9" r="2.1"/><circle cx="501.1" cy="49.7" r="2.1"/><circle cx="547.1" cy="61.8" r="2.1"/><circle cx="619.9" cy="115.2" r="2.1"/><circle cx="590.3" cy="84.2" r="2.1"/><circle cx="575.4" cy="71.3" r="2.1"/><circle cx="544.4" cy="64.4" r="2.1"/><circle cx="535.2" cy="57.5" r="2.1"/><circle cx="484.9" cy="53.3" r="2.1"/><circle cx="514.1" cy="53.4" r="2.1"/><circle cx="573.3" cy="71.6" r="2.1"/><circle cx="469.3" cy="51.6" r="2.1"/><circle cx="545.9" cy="63.1" r="2.1"/><circle cx="544.1" cy="61.6" r="2.1"/><circle cx="475.1" cy="50.0" r="2.1"/><circle cx="622.6" cy="121.3" r="2.1"/><circle cx="577.0" cy="78.0" r="2.1"/><circle cx="454.2" cy="50.9" r="2.1"/><circle cx="634.1" cy="127.3" r="2.1"/><circle cx="565.9" cy="73.7" r="2.1"/><circle cx="495.6" cy="51.1" r="2.1"/><circle cx="499.1" cy="52.8" r="2.1"/><circle cx="585.9" cy="83.9" r="2.1"/><circle cx="546.4" cy="65.4" r="2.1"/><circle cx="602.6" cy="92.5" r="2.1"/><circle cx="537.3" cy="59.5" r="2.1"/><circle cx="485.9" cy="56.4" r="2.1"/><circle cx="569.7" cy="71.8" r="2.1"/><circle cx="542.9" cy="65.7" r="2.1"/><circle cx="536.8" cy="60.9" r="2.1"/><circle cx="571.5" cy="76.4" r="2.1"/><circle cx="533.7" cy="60.7" r="2.1"/><circle cx="494.9" cy="58.3" r="2.1"/><circle cx="617.4" cy="112.6" r="2.1"/><circle cx="592.8" cy="85.4" r="2.1"/><circle cx="592.1" cy="84.3" r="2.1"/><circle cx="491.5" cy="54.6" r="2.1"/><circle cx="601.2" cy="90.4" r="2.1"/><circle cx="558.7" cy="71.9" r="2.1"/><circle cx="514.7" cy="57.7" r="2.1"/><circle cx="453.0" cy="49.1" r="2.1"/><circle cx="625.8" cy="126.5" r="2.1"/><circle cx="570.6" cy="70.2" r="2.1"/><circle cx="552.3" cy="64.1" r="2.1"/><circle cx="569.9" cy="76.0" r="2.1"/><circle cx="598.3" cy="95.2" r="2.1"/><circle cx="549.3" cy="59.3" r="2.1"/><circle cx="590.5" cy="82.8" r="2.1"/><circle cx="613.7" cy="103.8" r="2.1"/><circle cx="605.3" cy="99.9" r="2.1"/><circle cx="530.5" cy="61.5" r="2.1"/><circle cx="576.0" cy="76.6" r="2.1"/><circle cx="628.6" cy="118.8" r="2.1"/><circle cx="515.0" cy="58.6" r="2.1"/><circle cx="555.7" cy="68.2" r="2.1"/><circle cx="493.1" cy="57.5" r="2.1"/><circle cx="538.5" cy="57.9" r="2.1"/><circle cx="575.3" cy="77.2" r="2.1"/><circle cx="557.1" cy="67.7" r="2.1"/><circle cx="605.5" cy="94.9" r="2.1"/><circle cx="527.9" cy="54.3" r="2.1"/><circle cx="558.0" cy="70.6" r="2.1"/><circle cx="564.7" cy="72.0" r="2.1"/><circle cx="559.0" cy="69.0" r="2.1"/><circle cx="515.1" cy="52.8" r="2.1"/><circle cx="538.2" cy="63.3" r="2.1"/><circle cx="476.5" cy="49.4" r="2.1"/><circle cx="558.1" cy="68.0" r="2.1"/><circle cx="463.7" cy="49.9" r="2.1"/><circle cx="578.1" cy="79.3" r="2.1"/><circle cx="534.9" cy="59.2" r="2.1"/><circle cx="623.5" cy="123.1" r="2.1"/><circle cx="497.5" cy="56.2" r="2.1"/><circle cx="541.3" cy="60.0" r="2.1"/><circle cx="493.9" cy="57.8" r="2.1"/><circle cx="611.7" cy="99.4" r="2.1"/><circle cx="490.6" cy="50.4" r="2.1"/><circle cx="605.7" cy="95.5" r="2.1"/><circle cx="486.9" cy="51.2" r="2.1"/><circle cx="590.4" cy="80.5" r="2.1"/><circle cx="519.0" cy="59.6" r="2.1"/><circle cx="483.0" cy="54.3" r="2.1"/><circle cx="453.3" cy="53.8" r="2.1"/><circle cx="617.0" cy="107.0" r="2.1"/><circle cx="502.0" cy="56.0" r="2.1"/><circle cx="526.5" cy="57.3" r="2.1"/><circle cx="570.8" cy="76.8" r="2.1"/><circle cx="478.3" cy="51.3" r="2.1"/><circle cx="595.6" cy="86.3" r="2.1"/><circle cx="596.8" cy="95.8" r="2.1"/><circle cx="581.1" cy="78.9" r="2.1"/><circle cx="496.0" cy="49.3" r="2.1"/><circle cx="629.0" cy="118.8" r="2.1"/><circle cx="577.0" cy="74.8" r="2.1"/><circle cx="545.9" cy="65.0" r="2.1"/><circle cx="535.7" cy="56.8" r="2.1"/><circle cx="558.2" cy="72.2" r="2.1"/><circle cx="523.5" cy="52.9" r="2.1"/><circle cx="505.3" cy="51.2" r="2.1"/><circle cx="619.6" cy="119.4" r="2.1"/><circle cx="576.9" cy="75.7" r="2.1"/><circle cx="455.3" cy="49.0" r="2.1"/><circle cx="582.9" cy="79.3" r="2.1"/><circle cx="502.3" cy="53.3" r="2.1"/><circle cx="553.5" cy="67.0" r="2.1"/><circle cx="527.7" cy="62.8" r="2.1"/><circle cx="508.0" cy="57.3" r="2.1"/><circle cx="518.2" cy="60.0" r="2.1"/><circle cx="532.1" cy="61.8" r="2.1"/><circle cx="495.4" cy="57.4" r="2.1"/><circle cx="464.9" cy="49.0" r="2.1"/><circle cx="533.1" cy="61.9" r="2.1"/><circle cx="485.5" cy="52.8" r="2.1"/><circle cx="573.7" cy="71.2" r="2.1"/><circle cx="579.8" cy="83.9" r="2.1"/><circle cx="496.9" cy="53.7" r="2.1"/><circle cx="551.0" cy="67.1" r="2.1"/><circle cx="523.9" cy="60.2" r="2.1"/><circle cx="585.4" cy="82.1" r="2.1"/><circle cx="626.4" cy="120.2" r="2.1"/><circle cx="521.7" cy="57.9" r="2.1"/><circle cx="514.2" cy="58.5" r="2.1"/><circle cx="580.0" cy="79.2" r="2.1"/><circle cx="540.2" cy="59.1" r="2.1"/><circle cx="617.6" cy="111.9" r="2.1"/><circle cx="591.7" cy="89.2" r="2.1"/><circle cx="571.3" cy="75.6" r="2.1"/><circle cx="515.5" cy="57.2" r="2.1"/><circle cx="558.4" cy="71.5" r="2.1"/><circle cx="480.4" cy="51.2" r="2.1"/><circle cx="514.0" cy="57.3" r="2.1"/><circle cx="579.9" cy="74.5" r="2.1"/><circle cx="564.0" cy="67.6" r="2.1"/><circle cx="511.6" cy="53.6" r="2.1"/><circle cx="564.8" cy="73.9" r="2.1"/><circle cx="571.5" cy="75.1" r="2.1"/><circle cx="545.9" cy="65.4" r="2.1"/><circle cx="531.4" cy="54.5" r="2.1"/><circle cx="619.7" cy="108.3" r="2.1"/><circle cx="499.0" cy="51.5" r="2.1"/><circle cx="617.9" cy="107.1" r="2.1"/><circle cx="527.4" cy="57.8" r="2.1"/><circle cx="486.1" cy="55.5" r="2.1"/><circle cx="586.3" cy="79.3" r="2.1"/><circle cx="579.5" cy="73.2" r="2.1"/><circle cx="490.6" cy="57.7" r="2.1"/><circle cx="583.0" cy="84.1" r="2.1"/><circle cx="580.1" cy="77.0" r="2.1"/><circle cx="549.0" cy="65.9" r="2.1"/><circle cx="602.0" cy="98.5" r="2.1"/><circle cx="511.7" cy="51.6" r="2.1"/><circle cx="623.2" cy="110.5" r="2.1"/><circle cx="467.2" cy="53.1" r="2.1"/><circle cx="594.4" cy="93.9" r="2.1"/><circle cx="604.0" cy="96.3" r="2.1"/><circle cx="561.0" cy="72.9" r="2.1"/><circle cx="589.5" cy="82.4" r="2.1"/><circle cx="593.8" cy="88.1" r="2.1"/><circle cx="505.6" cy="51.5" r="2.1"/><circle cx="476.5" cy="53.6" r="2.1"/><circle cx="487.1" cy="56.4" r="2.1"/><circle cx="560.3" cy="65.6" r="2.1"/><circle cx="526.8" cy="53.1" r="2.1"/><circle cx="514.6" cy="57.6" r="2.1"/><circle cx="515.5" cy="59.5" r="2.1"/><circle cx="623.9" cy="109.4" r="2.1"/><circle cx="526.7" cy="53.0" r="2.1"/><circle cx="568.2" cy="70.6" r="2.1"/><circle cx="584.2" cy="83.4" r="2.1"/><circle cx="621.3" cy="108.0" r="2.1"/><circle cx="510.8" cy="57.3" r="2.1"/><circle cx="501.5" cy="59.4" r="2.1"/><circle cx="508.3" cy="50.1" r="2.1"/><circle cx="508.8" cy="58.6" r="2.1"/><circle cx="595.1" cy="85.9" r="2.1"/><circle cx="594.5" cy="88.5" r="2.1"/><circle cx="622.7" cy="122.6" r="2.1"/><circle cx="501.1" cy="51.3" r="2.1"/><circle cx="491.1" cy="53.6" r="2.1"/><circle cx="570.2" cy="74.7" r="2.1"/><circle cx="605.2" cy="91.6" r="2.1"/><circle cx="540.6" cy="57.0" r="2.1"/><circle cx="585.6" cy="84.5" r="2.1"/><circle cx="632.4" cy="124.4" r="2.1"/><circle cx="472.4" cy="54.9" r="2.1"/><circle cx="454.9" cy="53.6" r="2.1"/><circle cx="454.8" cy="49.7" r="2.1"/><circle cx="462.5" cy="50.2" r="2.1"/><circle cx="536.8" cy="56.0" r="2.1"/><circle cx="531.1" cy="55.0" r="2.1"/><circle cx="516.2" cy="53.6" r="2.1"/><circle cx="625.5" cy="117.3" r="2.1"/><circle cx="602.4" cy="91.2" r="2.1"/><circle cx="506.7" cy="51.0" r="2.1"/><circle cx="517.9" cy="57.7" r="2.1"/><circle cx="482.1" cy="54.1" r="2.1"/><circle cx="581.9" cy="83.7" r="2.1"/><circle cx="475.4" cy="53.9" r="2.1"/><circle cx="491.0" cy="51.1" r="2.1"/><circle cx="532.9" cy="55.5" r="2.1"/><circle cx="541.0" cy="60.4" r="2.1"/><circle cx="470.5" cy="51.4" r="2.1"/><circle cx="517.9" cy="55.8" r="2.1"/><circle cx="591.9" cy="91.6" r="2.1"/><circle cx="533.1" cy="57.6" r="2.1"/><circle cx="532.7" cy="60.6" r="2.1"/><circle cx="607.7" cy="97.1" r="2.1"/><circle cx="458.1" cy="52.7" r="2.1"/><circle cx="479.1" cy="53.4" r="2.1"/><circle cx="543.3" cy="61.7" r="2.1"/><circle cx="582.5" cy="78.6" r="2.1"/><circle cx="492.5" cy="53.5" r="2.1"/><circle cx="464.8" cy="49.8" r="2.1"/><circle cx="629.2" cy="120.8" r="2.1"/><circle cx="537.5" cy="62.5" r="2.1"/><circle cx="628.4" cy="125.6" r="2.1"/><circle cx="568.2" cy="71.3" r="2.1"/><circle cx="468.2" cy="51.6" r="2.1"/><circle cx="565.3" cy="70.3" r="2.1"/><circle cx="521.2" cy="55.0" r="2.1"/><circle cx="620.5" cy="110.3" r="2.1"/><circle cx="575.4" cy="78.2" r="2.1"/><circle cx="496.0" cy="54.2" r="2.1"/><circle cx="461.2" cy="51.3" r="2.1"/><circle cx="622.9" cy="108.5" r="2.1"/><circle cx="548.2" cy="60.6" r="2.1"/><circle cx="464.2" cy="51.5" r="2.1"/><circle cx="568.0" cy="71.5" r="2.1"/><circle cx="539.4" cy="62.5" r="2.1"/><circle cx="480.4" cy="51.8" r="2.1"/><circle cx="582.2" cy="79.2" r="2.1"/><circle cx="483.0" cy="55.4" r="2.1"/><circle cx="622.5" cy="114.2" r="2.1"/><circle cx="625.0" cy="126.7" r="2.1"/><circle cx="532.1" cy="62.1" r="2.1"/><circle cx="522.7" cy="53.5" r="2.1"/><circle cx="617.7" cy="110.2" r="2.1"/><circle cx="454.8" cy="50.3" r="2.1"/><circle cx="600.7" cy="89.7" r="2.1"/><circle cx="567.4" cy="72.7" r="2.1"/><circle cx="501.4" cy="55.3" r="2.1"/><circle cx="513.0" cy="59.6" r="2.1"/><circle cx="615.7" cy="103.0" r="2.1"/><circle cx="555.3" cy="63.2" r="2.1"/><circle cx="610.7" cy="102.9" r="2.1"/><circle cx="500.2" cy="58.2" r="2.1"/><circle cx="497.2" cy="57.7" r="2.1"/><circle cx="450.3" cy="50.5" r="2.1"/><circle cx="482.7" cy="51.5" r="2.1"/><circle cx="531.1" cy="59.8" r="2.1"/><circle cx="612.7" cy="101.1" r="2.1"/><circle cx="512.8" cy="54.3" r="2.1"/><circle cx="547.0" cy="60.0" r="2.1"/><circle cx="578.0" cy="82.7" r="2.1"/><circle cx="486.1" cy="53.1" r="2.1"/><circle cx="531.4" cy="58.9" r="2.1"/><circle cx="542.7" cy="62.2" r="2.1"/><circle cx="539.8" cy="57.7" r="2.1"/><circle cx="562.1" cy="64.6" r="2.1"/><circle cx="599.8" cy="89.9" r="2.1"/><circle cx="500.6" cy="50.8" r="2.1"/><circle cx="513.1" cy="54.9" r="2.1"/><circle cx="530.8" cy="62.0" r="2.1"/><circle cx="563.5" cy="67.4" r="2.1"/><circle cx="566.6" cy="70.7" r="2.1"/><circle cx="502.8" cy="52.8" r="2.1"/><circle cx="525.8" cy="59.4" r="2.1"/><circle cx="539.6" cy="62.5" r="2.1"/><circle cx="558.9" cy="64.6" r="2.1"/><circle cx="629.6" cy="128.9" r="2.1"/><circle cx="460.3" cy="51.7" r="2.1"/><circle cx="624.0" cy="120.2" r="2.1"/><circle cx="583.8" cy="85.3" r="2.1"/><circle cx="583.0" cy="79.5" r="2.1"/><circle cx="575.8" cy="80.4" r="2.1"/><circle cx="523.1" cy="58.3" r="2.1"/><circle cx="597.1" cy="94.4" r="2.1"/><circle cx="552.3" cy="64.2" r="2.1"/><circle cx="495.9" cy="52.8" r="2.1"/><circle cx="496.7" cy="52.9" r="2.1"/><circle cx="511.6" cy="54.8" r="2.1"/><circle cx="513.1" cy="56.5" r="2.1"/><circle cx="519.3" cy="61.0" r="2.1"/><circle cx="528.4" cy="56.0" r="2.1"/><circle cx="501.8" cy="54.9" r="2.1"/><circle cx="501.3" cy="58.6" r="2.1"/><circle cx="630.5" cy="122.5" r="2.1"/><circle cx="490.8" cy="52.5" r="2.1"/><circle cx="467.0" cy="51.0" r="2.1"/><circle cx="544.3" cy="61.5" r="2.1"/><circle cx="561.7" cy="71.2" r="2.1"/><circle cx="544.1" cy="65.2" r="2.1"/><circle cx="605.4" cy="93.4" r="2.1"/><circle cx="612.2" cy="102.9" r="2.1"/><circle cx="558.2" cy="63.7" r="2.1"/><circle cx="513.1" cy="54.3" r="2.1"/><circle cx="599.5" cy="95.8" r="2.1"/><circle cx="465.7" cy="50.3" r="2.1"/><circle cx="603.5" cy="96.8" r="2.1"/><circle cx="511.7" cy="58.9" r="2.1"/><circle cx="558.0" cy="69.2" r="2.1"/><circle cx="627.2" cy="126.1" r="2.1"/><circle cx="497.9" cy="54.4" r="2.1"/><circle cx="576.2" cy="71.9" r="2.1"/><circle cx="625.4" cy="123.2" r="2.1"/><circle cx="518.7" cy="54.8" r="2.1"/><circle cx="557.3" cy="63.3" r="2.1"/><circle cx="455.7" cy="51.2" r="2.1"/><circle cx="604.8" cy="96.6" r="2.1"/><circle cx="575.0" cy="79.2" r="2.1"/><circle cx="476.2" cy="53.8" r="2.1"/><circle cx="556.9" cy="67.4" r="2.1"/><circle cx="632.7" cy="127.6" r="2.1"/><circle cx="488.8" cy="55.6" r="2.1"/><circle cx="519.0" cy="55.8" r="2.1"/><circle cx="601.8" cy="93.7" r="2.1"/><circle cx="628.0" cy="121.6" r="2.1"/><circle cx="550.5" cy="60.5" r="2.1"/><circle cx="596.6" cy="85.9" r="2.1"/><circle cx="579.5" cy="82.0" r="2.1"/><circle cx="508.5" cy="56.2" r="2.1"/><circle cx="618.9" cy="105.4" r="2.1"/><circle cx="488.4" cy="54.7" r="2.1"/><circle cx="621.6" cy="117.3" r="2.1"/><circle cx="537.0" cy="58.0" r="2.1"/><circle cx="571.9" cy="74.9" r="2.1"/><circle cx="586.1" cy="82.7" r="2.1"/><circle cx="607.8" cy="95.8" r="2.1"/><circle cx="574.8" cy="76.1" r="2.1"/><circle cx="547.0" cy="60.9" r="2.1"/><circle cx="527.1" cy="58.9" r="2.1"/><circle cx="576.0" cy="72.9" r="2.1"/><circle cx="525.9" cy="56.4" r="2.1"/><circle cx="596.7" cy="91.5" r="2.1"/><circle cx="601.1" cy="94.6" r="2.1"/><circle cx="509.3" cy="58.0" r="2.1"/><circle cx="582.7" cy="80.2" r="2.1"/><circle cx="623.1" cy="109.6" r="2.1"/><circle cx="581.0" cy="84.2" r="2.1"/><circle cx="624.7" cy="117.4" r="2.1"/><circle cx="500.8" cy="50.4" r="2.1"/><circle cx="563.9" cy="71.3" r="2.1"/><circle cx="586.8" cy="85.9" r="2.1"/><circle cx="542.7" cy="60.6" r="2.1"/><circle cx="583.3" cy="75.4" r="2.1"/><circle cx="475.4" cy="52.2" r="2.1"/><circle cx="488.2" cy="52.0" r="2.1"/><circle cx="578.1" cy="77.3" r="2.1"/><circle cx="595.3" cy="86.1" r="2.1"/><circle cx="626.7" cy="124.3" r="2.1"/><circle cx="475.0" cy="48.6" r="2.1"/><circle cx="609.5" cy="103.3" r="2.1"/><circle cx="570.4" cy="72.4" r="2.1"/><circle cx="623.6" cy="115.4" r="2.1"/><circle cx="548.1" cy="65.7" r="2.1"/><circle cx="532.3" cy="56.5" r="2.1"/><circle cx="508.1" cy="56.1" r="2.1"/><circle cx="608.5" cy="98.6" r="2.1"/><circle cx="591.4" cy="87.8" r="2.1"/><circle cx="521.9" cy="54.1" r="2.1"/><circle cx="551.7" cy="60.1" r="2.1"/><circle cx="494.6" cy="58.1" r="2.1"/><circle cx="452.6" cy="53.6" r="2.1"/><circle cx="597.5" cy="91.7" r="2.1"/><circle cx="634.6" cy="128.8" r="2.1"/><circle cx="507.5" cy="54.6" r="2.1"/><circle cx="497.7" cy="58.5" r="2.1"/><circle cx="539.1" cy="57.6" r="2.1"/><circle cx="630.6" cy="124.6" r="2.1"/><circle cx="456.7" cy="52.9" r="2.1"/><circle cx="596.1" cy="86.1" r="2.1"/><circle cx="597.8" cy="89.9" r="2.1"/><circle cx="602.8" cy="92.4" r="2.1"/><circle cx="560.8" cy="66.0" r="2.1"/><circle cx="561.0" cy="73.1" r="2.1"/><circle cx="570.3" cy="70.3" r="2.1"/><circle cx="551.3" cy="64.7" r="2.1"/><circle cx="596.7" cy="88.4" r="2.1"/><circle cx="579.9" cy="74.4" r="2.1"/><circle cx="627.8" cy="119.7" r="2.1"/><circle cx="512.2" cy="58.3" r="2.1"/><circle cx="585.9" cy="85.0" r="2.1"/><circle cx="507.0" cy="52.9" r="2.1"/><circle cx="549.2" cy="61.2" r="2.1"/><circle cx="517.9" cy="52.1" r="2.1"/><circle cx="618.2" cy="104.3" r="2.1"/><circle cx="578.2" cy="74.8" r="2.1"/><circle cx="630.3" cy="122.9" r="2.1"/><circle cx="517.5" cy="51.9" r="2.1"/><circle cx="540.8" cy="57.6" r="2.1"/><circle cx="484.5" cy="56.9" r="2.1"/><circle cx="579.4" cy="76.8" r="2.1"/><circle cx="578.0" cy="80.8" r="2.1"/><circle cx="576.6" cy="74.8" r="2.1"/><circle cx="560.2" cy="67.1" r="2.1"/><circle cx="547.5" cy="67.2" r="2.1"/><circle cx="488.3" cy="56.6" r="2.1"/><circle cx="634.0" cy="128.1" r="2.1"/><circle cx="530.3" cy="58.0" r="2.1"/><circle cx="554.3" cy="69.1" r="2.1"/><circle cx="453.7" cy="52.6" r="2.1"/><circle cx="580.6" cy="79.6" r="2.1"/><circle cx="621.8" cy="116.3" r="2.1"/><circle cx="491.3" cy="57.0" r="2.1"/><circle cx="595.9" cy="92.1" r="2.1"/><circle cx="516.4" cy="53.9" r="2.1"/><circle cx="589.2" cy="84.0" r="2.1"/><circle cx="585.2" cy="76.6" r="2.1"/><circle cx="626.4" cy="122.3" r="2.1"/><circle cx="567.2" cy="73.4" r="2.1"/><circle cx="597.2" cy="94.7" r="2.1"/><circle cx="583.2" cy="80.4" r="2.1"/><circle cx="562.4" cy="67.8" r="2.1"/><circle cx="619.1" cy="108.6" r="2.1"/><circle cx="546.5" cy="64.0" r="2.1"/><circle cx="612.5" cy="105.3" r="2.1"/><circle cx="513.7" cy="56.5" r="2.1"/><circle cx="535.2" cy="57.0" r="2.1"/><circle cx="619.6" cy="104.6" r="2.1"/><circle cx="574.4" cy="71.3" r="2.1"/><circle cx="540.4" cy="63.7" r="2.1"/><circle cx="599.5" cy="89.7" r="2.1"/><circle cx="594.8" cy="91.3" r="2.1"/><circle cx="581.2" cy="73.7" r="2.1"/><circle cx="601.3" cy="92.2" r="2.1"/><circle cx="613.4" cy="105.8" r="2.1"/><circle cx="523.0" cy="59.9" r="2.1"/><circle cx="574.8" cy="75.2" r="2.1"/><circle cx="484.4" cy="53.4" r="2.1"/><circle cx="526.4" cy="53.5" r="2.1"/><circle cx="482.6" cy="52.0" r="2.1"/><circle cx="565.3" cy="67.5" r="2.1"/><circle cx="632.8" cy="126.9" r="2.1"/><circle cx="578.7" cy="83.3" r="2.1"/><circle cx="471.7" cy="51.9" r="2.1"/><circle cx="622.6" cy="122.4" r="2.1"/><circle cx="586.2" cy="84.0" r="2.1"/><circle cx="634.2" cy="127.5" r="2.1"/><circle cx="548.7" cy="59.9" r="2.1"/><circle cx="541.7" cy="64.3" r="2.1"/><circle cx="594.5" cy="86.0" r="2.1"/><circle cx="598.4" cy="91.0" r="2.1"/><circle cx="593.2" cy="82.5" r="2.1"/><circle cx="611.1" cy="103.0" r="2.1"/><circle cx="490.8" cy="52.3" r="2.1"/><circle cx="592.4" cy="84.3" r="2.1"/><circle cx="549.5" cy="65.1" r="2.1"/><circle cx="626.7" cy="127.3" r="2.1"/><circle cx="415.9" cy="51.2" r="2.1"/><circle cx="429.9" cy="48.7" r="2.1"/><circle cx="437.8" cy="47.8" r="2.1"/><circle cx="438.7" cy="50.9" r="2.1"/><circle cx="440.7" cy="53.7" r="2.1"/><circle cx="445.5" cy="50.1" r="2.1"/><circle cx="441.6" cy="53.5" r="2.1"/><circle cx="465.7" cy="44.1" r="2.1"/><circle cx="475.0" cy="46.6" r="2.1"/><circle cx="501.6" cy="45.1" r="2.1"/><circle cx="508.0" cy="47.5" r="2.1"/><circle cx="514.5" cy="48.8" r="2.1"/><circle cx="519.3" cy="47.8" r="2.1"/><circle cx="528.6" cy="44.5" r="2.1"/><circle cx="530.2" cy="50.9" r="2.1"/><circle cx="558.9" cy="57.9" r="2.1"/><circle cx="566.9" cy="56.6" r="2.1"/><circle cx="569.1" cy="63.7" r="2.1"/><circle cx="568.5" cy="66.0" r="2.1"/><circle cx="614.3" cy="88.4" r="2.1"/><circle cx="617.2" cy="92.1" r="2.1"/><circle cx="613.6" cy="94.1" r="2.1"/><circle cx="616.7" cy="92.8" r="2.1"/><circle cx="616.4" cy="99.2" r="2.1"/><circle cx="629.6" cy="106.3" r="2.1"/><circle cx="626.4" cy="104.9" r="2.1"/><circle cx="637.0" cy="133.4" r="2.1"/><circle cx="640.5" cy="134.4" r="2.1"/><circle cx="636.0" cy="135.5" r="2.1"/><circle cx="630.0" cy="136.5" r="2.1"/><circle cx="630.5" cy="138.1" r="2.1"/><circle cx="634.0" cy="137.5" r="2.1"/><circle cx="638.0" cy="138.6" r="2.1"/><circle cx="636.5" cy="141.7" r="2.1"/><circle cx="640.0" cy="141.7" r="2.1"/><circle cx="644.0" cy="141.7" r="2.1"/><circle cx="649.5" cy="145.6" r="2.1"/><circle cx="643.0" cy="146.9" r="2.1"/><circle cx="646.0" cy="148.5" r="2.1"/><circle cx="642.5" cy="148.0" r="2.1"/><circle cx="645.8" cy="148.4" r="2.1"/><circle cx="648.6" cy="148.4" r="2.1"/><circle cx="647.2" cy="152.3" r="2.1"/><circle cx="650.0" cy="151.3" r="2.1"/><circle cx="641.5" cy="153.1" r="2.1"/></g>
<g shape-rendering="crispEdges"><rect x="399" y="24" width="1" height="201" fill="#737373"/><rect x="666" y="24" width="1" height="201" fill="#b4b4b4"/><rect x="399" y="24" width="268" height="1" fill="#afafaf"/><rect x="399" y="224" width="268" height="1" fill="#afafaf"/></g>
<g fill="#5a5a5a" shape-rendering="crispEdges"><rect x="453" y="221" width="1" height="3"/><rect x="453" y="25" width="1" height="2"/><rect x="506" y="221" width="1" height="3"/><rect x="506" y="25" width="1" height="2"/><rect x="559" y="221" width="1" height="3"/><rect x="559" y="25" width="1" height="2"/><rect x="613" y="221" width="1" height="3"/><rect x="613" y="25" width="1" height="2"/></g>
<g shape-rendering="crispEdges"><rect x="400" y="191" width="3" height="1" fill="#969696"/><rect x="663" y="191" width="3" height="1" fill="#6e6e6e"/><rect x="400" y="157" width="3" height="1" fill="#969696"/><rect x="663" y="157" width="3" height="1" fill="#6e6e6e"/><rect x="400" y="124" width="3" height="1" fill="#969696"/><rect x="663" y="124" width="3" height="1" fill="#6e6e6e"/><rect x="400" y="91" width="3" height="1" fill="#969696"/><rect x="663" y="91" width="3" height="1" fill="#6e6e6e"/><rect x="400" y="57" width="3" height="1" fill="#969696"/><rect x="663" y="57" width="3" height="1" fill="#6e6e6e"/></g>
<text x="397.7" y="240" text-anchor="middle" class="t">-3</text>
<text x="451.1" y="240" text-anchor="middle" class="t">-2</text>
<text x="504.5" y="240" text-anchor="middle" class="t">-1</text>
<text x="559.7" y="240" text-anchor="middle" class="t">0</text>
<text x="613.1" y="240" text-anchor="middle" class="t">1</text>
<text x="666.5" y="240" text-anchor="middle" class="t">2</text>
<text x="396.5" y="229.0" text-anchor="end" class="t">1.9</text>
<text x="396.5" y="195.7" text-anchor="end" class="t">2</text>
<text x="396.5" y="162.3" text-anchor="end" class="t">2.1</text>
<text x="396.5" y="129.0" text-anchor="end" class="t">2.2</text>
<text x="396.5" y="95.7" text-anchor="end" class="t">2.3</text>
<text x="396.5" y="62.3" text-anchor="end" class="t">2.4</text>
<text x="396.5" y="29.0" text-anchor="end" class="t">2.5</text>
<text x="530.5" y="256.4" text-anchor="middle" class="t">ln(WVC)</text>
<text x="421.7" y="14.2" class="t">cos(sza) = 1.0</text>
<text x="541.5" y="14.2" class="t">1/cos(vza) = 1.2</text>
<text transform="translate(368.9,125.5) rotate(-90)" text-anchor="middle" class="t">Direct solar radiance W/(m<tspan dy="-6" font-size="10">2</tspan><tspan dy="6">·sr·um)</tspan></text>
<g fill="#0000ff"><circle cx="800.0" cy="58.9" r="2.1"/><circle cx="801.0" cy="57.2" r="2.1"/><circle cx="803.3" cy="56.1" r="2.1"/><circle cx="806.7" cy="55.6" r="2.1"/><circle cx="811.3" cy="55.8" r="2.1"/><circle cx="814.3" cy="56.1" r="2.1"/><circle cx="818.3" cy="56.7" r="2.1"/><circle cx="821.5" cy="56.5" r="2.1"/><circle cx="825.8" cy="55.4" r="2.1"/><circle cx="831.2" cy="57.1" r="2.1"/><circle cx="835.2" cy="57.5" r="2.1"/><circle cx="835.2" cy="56.6" r="2.1"/><circle cx="841.7" cy="57.9" r="2.1"/><circle cx="845.1" cy="56.8" r="2.1"/><circle cx="850.3" cy="56.7" r="2.1"/><circle cx="852.4" cy="57.5" r="2.1"/><circle cx="857.4" cy="57.9" r="2.1"/><circle cx="858.2" cy="56.8" r="2.1"/><circle cx="863.1" cy="59.1" r="2.1"/><circle cx="867.6" cy="58.5" r="2.1"/><circle cx="871.6" cy="59.5" r="2.1"/><circle cx="875.7" cy="60.6" r="2.1"/><circle cx="879.8" cy="60.6" r="2.1"/><circle cx="880.9" cy="61.4" r="2.1"/><circle cx="885.8" cy="63.5" r="2.1"/><circle cx="888.0" cy="63.5" r="2.1"/><circle cx="890.9" cy="64.1" r="2.1"/><circle cx="894.8" cy="66.7" r="2.1"/><circle cx="898.1" cy="65.9" r="2.1"/><circle cx="904.0" cy="67.9" r="2.1"/><circle cx="907.5" cy="69.8" r="2.1"/><circle cx="911.0" cy="69.7" r="2.1"/><circle cx="913.0" cy="70.8" r="2.1"/><circle cx="915.7" cy="74.1" r="2.1"/><circle cx="920.7" cy="77.2" r="2.1"/><circle cx="925.6" cy="77.7" r="2.1"/><circle cx="931.1" cy="80.7" r="2.1"/><circle cx="936.9" cy="83.0" r="2.1"/><circle cx="940.2" cy="86.6" r="2.1"/><circle cx="943.9" cy="89.2" r="2.1"/><circle cx="945.1" cy="89.9" r="2.1"/><circle cx="947.8" cy="93.6" r="2.1"/><circle cx="950.5" cy="95.4" r="2.1"/><circle cx="954.4" cy="97.8" r="2.1"/><circle cx="958.3" cy="100.3" r="2.1"/><circle cx="961.1" cy="104.5" r="2.1"/><circle cx="962.4" cy="106.4" r="2.1"/><circle cx="964.9" cy="108.3" r="2.1"/><circle cx="968.6" cy="111.0" r="2.1"/><circle cx="971.4" cy="112.9" r="2.1"/><circle cx="976.8" cy="114.5" r="2.1"/><circle cx="980.1" cy="115.6" r="2.1"/><circle cx="980.1" cy="116.0" r="2.1"/><circle cx="977.6" cy="119.4" r="2.1"/><circle cx="976.6" cy="120.5" r="2.1"/><circle cx="977.3" cy="125.2" r="2.1"/><circle cx="979.4" cy="126.3" r="2.1"/><circle cx="983.5" cy="130.4" r="2.1"/><circle cx="984.6" cy="132.9" r="2.1"/><circle cx="986.4" cy="136.5" r="2.1"/><circle cx="989.5" cy="138.9" r="2.1"/><circle cx="993.0" cy="141.5" r="2.1"/><circle cx="992.0" cy="141.5" r="2.1"/><circle cx="989.6" cy="141.1" r="2.1"/><circle cx="986.8" cy="141.3" r="2.1"/><circle cx="982.7" cy="141.2" r="2.1"/><circle cx="980.1" cy="141.0" r="2.1"/><circle cx="977.6" cy="140.6" r="2.1"/><circle cx="974.3" cy="137.6" r="2.1"/><circle cx="971.6" cy="134.6" r="2.1"/><circle cx="968.2" cy="129.7" r="2.1"/><circle cx="967.2" cy="126.5" r="2.1"/><circle cx="966.8" cy="125.1" r="2.1"/><circle cx="964.2" cy="119.9" r="2.1"/><circle cx="960.4" cy="116.0" r="2.1"/><circle cx="957.4" cy="113.2" r="2.1"/><circle cx="954.1" cy="110.9" r="2.1"/><circle cx="951.0" cy="109.6" r="2.1"/><circle cx="948.1" cy="108.2" r="2.1"/><circle cx="946.8" cy="107.9" r="2.1"/><circle cx="945.1" cy="105.7" r="2.1"/><circle cx="940.8" cy="102.1" r="2.1"/><circle cx="939.0" cy="99.3" r="2.1"/><circle cx="934.1" cy="96.3" r="2.1"/><circle cx="931.1" cy="95.2" r="2.1"/><circle cx="928.5" cy="94.3" r="2.1"/><circle cx="925.2" cy="91.4" r="2.1"/><circle cx="921.1" cy="87.5" r="2.1"/><circle cx="917.4" cy="85.3" r="2.1"/><circle cx="912.7" cy="83.6" r="2.1"/><circle cx="907.9" cy="82.2" r="2.1"/><circle cx="904.5" cy="79.8" r="2.1"/><circle cx="900.6" cy="78.4" r="2.1"/><circle cx="896.4" cy="77.5" r="2.1"/><circle cx="893.6" cy="77.0" r="2.1"/><circle cx="889.2" cy="75.1" r="2.1"/><circle cx="886.6" cy="74.9" r="2.1"/><circle cx="883.7" cy="74.1" r="2.1"/><circle cx="880.7" cy="73.2" r="2.1"/><circle cx="876.6" cy="73.0" r="2.1"/><circle cx="874.3" cy="72.6" r="2.1"/><circle cx="871.3" cy="72.4" r="2.1"/><circle cx="868.0" cy="71.1" r="2.1"/><circle cx="864.3" cy="70.5" r="2.1"/><circle cx="861.4" cy="69.8" r="2.1"/><circle cx="857.3" cy="69.2" r="2.1"/><circle cx="852.1" cy="69.4" r="2.1"/><circle cx="848.7" cy="68.7" r="2.1"/><circle cx="845.4" cy="68.1" r="2.1"/><circle cx="841.7" cy="68.1" r="2.1"/><circle cx="839.9" cy="67.2" r="2.1"/><circle cx="834.9" cy="66.6" r="2.1"/><circle cx="832.4" cy="67.0" r="2.1"/><circle cx="828.8" cy="66.7" r="2.1"/><circle cx="825.4" cy="65.5" r="2.1"/><circle cx="823.4" cy="64.9" r="2.1"/><circle cx="820.4" cy="63.8" r="2.1"/><circle cx="811.7" cy="62.7" r="2.1"/><circle cx="809.2" cy="62.7" r="2.1"/><circle cx="805.6" cy="64.2" r="2.1"/><circle cx="802.8" cy="64.4" r="2.1"/><circle cx="799.0" cy="62.0" r="2.1"/><circle cx="896.0" cy="69.4" r="2.1"/><circle cx="968.2" cy="113.0" r="2.1"/><circle cx="971.4" cy="115.9" r="2.1"/><circle cx="852.1" cy="57.9" r="2.1"/><circle cx="898.1" cy="70.4" r="2.1"/><circle cx="970.9" cy="125.5" r="2.1"/><circle cx="941.3" cy="93.5" r="2.1"/><circle cx="926.4" cy="80.2" r="2.1"/><circle cx="895.4" cy="73.1" r="2.1"/><circle cx="886.2" cy="66.0" r="2.1"/><circle cx="835.9" cy="61.7" r="2.1"/><circle cx="865.1" cy="61.7" r="2.1"/><circle cx="924.3" cy="80.5" r="2.1"/><circle cx="820.3" cy="59.9" r="2.1"/><circle cx="896.9" cy="71.8" r="2.1"/><circle cx="895.1" cy="70.2" r="2.1"/><circle cx="826.1" cy="58.2" r="2.1"/><circle cx="973.6" cy="131.8" r="2.1"/><circle cx="928.0" cy="87.1" r="2.1"/><circle cx="805.2" cy="59.2" r="2.1"/><circle cx="985.1" cy="138.0" r="2.1"/><circle cx="916.9" cy="82.6" r="2.1"/><circle cx="846.6" cy="59.4" r="2.1"/><circle cx="850.1" cy="61.1" r="2.1"/><circle cx="936.9" cy="93.2" r="2.1"/><circle cx="897.4" cy="74.1" r="2.1"/><circle cx="953.6" cy="102.1" r="2.1"/><circle cx="888.3" cy="68.0" r="2.1"/><circle cx="836.9" cy="64.8" r="2.1"/><circle cx="920.7" cy="80.7" r="2.1"/><circle cx="893.9" cy="74.4" r="2.1"/><circle cx="887.8" cy="69.5" r="2.1"/><circle cx="922.5" cy="85.5" r="2.1"/><circle cx="884.7" cy="69.3" r="2.1"/><circle cx="845.9" cy="66.8" r="2.1"/><circle cx="968.4" cy="122.8" r="2.1"/><circle cx="943.8" cy="94.8" r="2.1"/><circle cx="943.1" cy="93.7" r="2.1"/><circle cx="842.5" cy="62.9" r="2.1"/><circle cx="952.2" cy="99.9" r="2.1"/><circle cx="909.7" cy="80.9" r="2.1"/><circle cx="865.7" cy="66.2" r="2.1"/><circle cx="804.0" cy="57.3" r="2.1"/><circle cx="976.8" cy="137.2" r="2.1"/><circle cx="921.6" cy="79.1" r="2.1"/><circle cx="903.3" cy="72.8" r="2.1"/><circle cx="920.9" cy="85.1" r="2.1"/><circle cx="949.3" cy="104.9" r="2.1"/><circle cx="900.3" cy="67.9" r="2.1"/><circle cx="941.5" cy="92.1" r="2.1"/><circle cx="964.7" cy="113.8" r="2.1"/><circle cx="956.3" cy="109.8" r="2.1"/><circle cx="881.5" cy="70.1" r="2.1"/><circle cx="927.0" cy="85.7" r="2.1"/><circle cx="979.6" cy="129.2" r="2.1"/><circle cx="866.0" cy="67.1" r="2.1"/><circle cx="906.7" cy="77.0" r="2.1"/><circle cx="844.1" cy="66.0" r="2.1"/><circle cx="889.5" cy="66.4" r="2.1"/><circle cx="926.3" cy="86.3" r="2.1"/><circle cx="908.1" cy="76.5" r="2.1"/><circle cx="956.5" cy="104.5" r="2.1"/><circle cx="878.9" cy="62.7" r="2.1"/><circle cx="909.0" cy="79.5" r="2.1"/><circle cx="915.7" cy="80.9" r="2.1"/><circle cx="910.0" cy="77.9" r="2.1"/><circle cx="866.1" cy="61.2" r="2.1"/><circle cx="889.2" cy="71.9" r="2.1"/><circle cx="827.5" cy="57.6" r="2.1"/><circle cx="909.1" cy="76.8" r="2.1"/><circle cx="814.7" cy="58.1" r="2.1"/><circle cx="929.1" cy="88.4" r="2.1"/><circle cx="885.9" cy="67.8" r="2.1"/><circle cx="974.5" cy="133.7" r="2.1"/><circle cx="848.5" cy="64.6" r="2.1"/><circle cx="892.3" cy="68.5" r="2.1"/><circle cx="844.9" cy="66.3" r="2.1"/><circle cx="962.7" cy="109.2" r="2.1"/><circle cx="841.6" cy="58.6" r="2.1"/><circle cx="956.7" cy="105.2" r="2.1"/><circle cx="837.9" cy="59.4" r="2.1"/><circle cx="941.4" cy="89.7" r="2.1"/><circle cx="870.0" cy="68.1" r="2.1"/><circle cx="834.0" cy="62.7" r="2.1"/><circle cx="804.3" cy="62.2" r="2.1"/><circle cx="968.0" cy="117.1" r="2.1"/><circle cx="853.0" cy="64.4" r="2.1"/><circle cx="877.5" cy="65.7" r="2.1"/><circle cx="921.8" cy="85.9" r="2.1"/><circle cx="829.3" cy="59.5" r="2.1"/><circle cx="946.6" cy="95.7" r="2.1"/><circle cx="947.8" cy="105.5" r="2.1"/><circle cx="932.1" cy="88.1" r="2.1"/><circle cx="847.0" cy="57.5" r="2.1"/><circle cx="980.0" cy="129.3" r="2.1"/><circle cx="928.0" cy="83.8" r="2.1"/><circle cx="896.9" cy="73.7" r="2.1"/><circle cx="886.7" cy="65.2" r="2.1"/><circle cx="909.2" cy="81.1" r="2.1"/><circle cx="874.5" cy="61.2" r="2.1"/><circle cx="856.3" cy="59.5" r="2.1"/><circle cx="970.6" cy="129.8" r="2.1"/><circle cx="927.9" cy="84.7" r="2.1"/><circle cx="806.3" cy="57.2" r="2.1"/><circle cx="933.9" cy="88.5" r="2.1"/><circle cx="853.3" cy="61.6" r="2.1"/><circle cx="904.5" cy="75.7" r="2.1"/><circle cx="878.7" cy="71.5" r="2.1"/><circle cx="859.0" cy="65.7" r="2.1"/><circle cx="869.2" cy="68.5" r="2.1"/><circle cx="883.1" cy="70.4" r="2.1"/><circle cx="846.4" cy="65.9" r="2.1"/><circle cx="815.9" cy="57.2" r="2.1"/><circle cx="884.1" cy="70.5" r="2.1"/><circle cx="836.5" cy="61.2" r="2.1"/><circle cx="924.7" cy="80.1" r="2.1"/><circle cx="930.8" cy="93.2" r="2.1"/><circle cx="847.9" cy="62.0" r="2.1"/><circle cx="902.0" cy="75.9" r="2.1"/><circle cx="874.9" cy="68.8" r="2.1"/><circle cx="936.4" cy="91.3" r="2.1"/><circle cx="977.4" cy="130.7" r="2.1"/><circle cx="872.7" cy="66.4" r="2.1"/><circle cx="865.2" cy="67.0" r="2.1"/><circle cx="931.0" cy="88.4" r="2.1"/><circle cx="891.2" cy="67.6" r="2.1"/><circle cx="968.6" cy="122.1" r="2.1"/><circle cx="942.7" cy="98.7" r="2.1"/><circle cx="922.3" cy="84.6" r="2.1"/><circle cx="866.5" cy="65.6" r="2.1"/><circle cx="909.4" cy="80.4" r="2.1"/><circle cx="831.4" cy="59.5" r="2.1"/><circle cx="865.0" cy="65.7" r="2.1"/><circle cx="930.9" cy="83.5" r="2.1"/><circle cx="915.0" cy="76.4" r="2.1"/><circle cx="862.6" cy="61.9" r="2.1"/><circle cx="915.8" cy="82.9" r="2.1"/><circle cx="922.5" cy="84.1" r="2.1"/><circle cx="896.9" cy="74.1" r="2.1"/><circle cx="882.4" cy="62.9" r="2.1"/><circle cx="970.7" cy="118.3" r="2.1"/><circle cx="850.0" cy="59.7" r="2.1"/><circle cx="968.9" cy="117.1" r="2.1"/><circle cx="878.4" cy="66.3" r="2.1"/><circle cx="837.1" cy="63.9" r="2.1"/><circle cx="937.3" cy="88.4" r="2.1"/><circle cx="930.5" cy="82.1" r="2.1"/><circle cx="841.6" cy="66.2" r="2.1"/><circle cx="934.0" cy="93.4" r="2.1"/><circle cx="931.1" cy="86.1" r="2.1"/><circle cx="900.0" cy="74.7" r="2.1"/><circle cx="953.0" cy="108.3" r="2.1"/><circle cx="862.7" cy="59.9" r="2.1"/><circle cx="974.2" cy="120.6" r="2.1"/><circle cx="818.2" cy="61.4" r="2.1"/><circle cx="945.4" cy="103.6" r="2.1"/><circle cx="955.0" cy="106.0" r="2.1"/><circle cx="912.0" cy="81.8" r="2.1"/><circle cx="940.5" cy="91.7" r="2.1"/><circle cx="944.8" cy="97.6" r="2.1"/><circle cx="856.6" cy="59.8" r="2.1"/><circle cx="827.5" cy="61.9" r="2.1"/><circle cx="838.1" cy="64.9" r="2.1"/><circle cx="911.3" cy="74.3" r="2.1"/><circle cx="877.8" cy="61.4" r="2.1"/><circle cx="865.6" cy="66.0" r="2.1"/><circle cx="866.5" cy="68.0" r="2.1"/><circle cx="974.9" cy="119.5" r="2.1"/><circle cx="877.7" cy="61.3" r="2.1"/><circle cx="919.2" cy="79.5" r="2.1"/><circle cx="935.2" cy="92.7" r="2.1"/><circle cx="972.3" cy="118.1" r="2.1"/><circle cx="861.8" cy="65.7" r="2.1"/><circle cx="852.5" cy="68.0" r="2.1"/><circle cx="859.3" cy="58.4" r="2.1"/><circle cx="859.8" cy="67.1" r="2.1"/><circle cx="946.1" cy="95.2" r="2.1"/><circle cx="945.5" cy="97.9" r="2.1"/><circle cx="973.7" cy="133.2" r="2.1"/><circle cx="852.1" cy="59.6" r="2.1"/><circle cx="842.1" cy="61.9" r="2.1"/><circle cx="921.2" cy="83.7" r="2.1"/><circle cx="956.2" cy="101.2" r="2.1"/><circle cx="891.6" cy="65.5" r="2.1"/><circle cx="936.6" cy="93.9" r="2.1"/><circle cx="983.4" cy="135.0" r="2.1"/><circle cx="823.4" cy="63.3" r="2.1"/><circle cx="805.9" cy="61.9" r="2.1"/><circle cx="805.8" cy="57.9" r="2.1"/><circle cx="813.5" cy="58.4" r="2.1"/><circle cx="887.8" cy="64.4" r="2.1"/><circle cx="882.1" cy="63.4" r="2.1"/><circle cx="867.2" cy="61.9" r="2.1"/><circle cx="976.5" cy="127.7" r="2.1"/><circle cx="953.4" cy="100.7" r="2.1"/><circle cx="857.7" cy="59.3" r="2.1"/><circle cx="868.9" cy="66.2" r="2.1"/><circle cx="833.1" cy="62.5" r="2.1"/><circle cx="932.9" cy="93.0" r="2.1"/><circle cx="826.4" cy="62.2" r="2.1"/><circle cx="842.0" cy="59.4" r="2.1"/><circle cx="883.9" cy="63.9" r="2.1"/><circle cx="892.0" cy="69.0" r="2.1"/><circle cx="821.5" cy="59.6" r="2.1"/><circle cx="868.9" cy="64.2" r="2.1"/><circle cx="942.9" cy="101.2" r="2.1"/><circle cx="884.1" cy="66.1" r="2.1"/><circle cx="883.7" cy="69.2" r="2.1"/><circle cx="958.7" cy="106.8" r="2.1"/><circle cx="809.1" cy="61.1" r="2.1"/><circle cx="830.1" cy="61.7" r="2.1"/><circle cx="894.3" cy="70.3" r="2.1"/><circle cx="933.5" cy="87.7" r="2.1"/><circle cx="843.5" cy="61.9" r="2.1"/><circle cx="815.8" cy="58.0" r="2.1"/><circle cx="980.2" cy="131.3" r="2.1"/><circle cx="888.5" cy="71.1" r="2.1"/><circle cx="979.4" cy="136.3" r="2.1"/><circle cx="919.2" cy="80.2" r="2.1"/><circle cx="819.2" cy="59.9" r="2.1"/><circle cx="916.3" cy="79.2" r="2.1"/><circle cx="872.2" cy="63.4" r="2.1"/><circle cx="971.5" cy="120.5" r="2.1"/><circle cx="926.4" cy="87.3" r="2.1"/><circle cx="847.0" cy="62.5" r="2.1"/><circle cx="812.2" cy="59.6" r="2.1"/><circle cx="973.9" cy="118.6" r="2.1"/><circle cx="899.2" cy="69.2" r="2.1"/><circle cx="815.2" cy="59.8" r="2.1"/><circle cx="919.0" cy="80.5" r="2.1"/><circle cx="890.4" cy="71.1" r="2.1"/><circle cx="831.4" cy="60.1" r="2.1"/><circle cx="933.2" cy="88.3" r="2.1"/><circle cx="834.0" cy="63.8" r="2.1"/><circle cx="973.5" cy="124.5" r="2.1"/><circle cx="976.0" cy="137.4" r="2.1"/><circle cx="883.1" cy="70.7" r="2.1"/><circle cx="873.7" cy="61.9" r="2.1"/><circle cx="968.7" cy="120.3" r="2.1"/><circle cx="805.8" cy="58.6" r="2.1"/><circle cx="951.7" cy="99.2" r="2.1"/><circle cx="918.4" cy="81.6" r="2.1"/><circle cx="852.4" cy="63.7" r="2.1"/><circle cx="864.0" cy="68.1" r="2.1"/><circle cx="966.7" cy="112.9" r="2.1"/><circle cx="906.3" cy="71.8" r="2.1"/><circle cx="961.7" cy="112.8" r="2.1"/><circle cx="851.2" cy="66.7" r="2.1"/><circle cx="848.2" cy="66.2" r="2.1"/><circle cx="801.3" cy="58.8" r="2.1"/><circle cx="833.7" cy="59.8" r="2.1"/><circle cx="882.1" cy="68.3" r="2.1"/><circle cx="963.7" cy="111.0" r="2.1"/><circle cx="863.8" cy="62.7" r="2.1"/><circle cx="898.0" cy="68.5" r="2.1"/><circle cx="929.0" cy="92.0" r="2.1"/><circle cx="837.1" cy="61.4" r="2.1"/><circle cx="882.4" cy="67.4" r="2.1"/><circle cx="893.7" cy="70.8" r="2.1"/><circle cx="890.8" cy="66.1" r="2.1"/><circle cx="913.1" cy="73.3" r="2.1"/><circle cx="950.8" cy="99.4" r="2.1"/><circle cx="851.6" cy="59.0" r="2.1"/><circle cx="864.1" cy="63.2" r="2.1"/><circle cx="881.8" cy="70.6" r="2.1"/><circle cx="914.5" cy="76.2" r="2.1"/><circle cx="917.6" cy="79.6" r="2.1"/><circle cx="853.8" cy="61.1" r="2.1"/><circle cx="876.8" cy="68.0" r="2.1"/><circle cx="890.6" cy="71.1" r="2.1"/><circle cx="909.9" cy="73.3" r="2.1"/><circle cx="980.6" cy="139.6" r="2.1"/><circle cx="811.3" cy="60.0" r="2.1"/><circle cx="975.0" cy="130.6" r="2.1"/><circle cx="934.8" cy="94.7" r="2.1"/><circle cx="934.0" cy="88.7" r="2.1"/><circle cx="926.8" cy="89.6" r="2.1"/><circle cx="874.1" cy="66.8" r="2.1"/><circle cx="948.1" cy="104.1" r="2.1"/><circle cx="903.3" cy="72.9" r="2.1"/><circle cx="846.9" cy="61.1" r="2.1"/><circle cx="847.7" cy="61.3" r="2.1"/><circle cx="862.6" cy="63.2" r="2.1"/><circle cx="864.1" cy="65.0" r="2.1"/><circle cx="870.3" cy="69.5" r="2.1"/><circle cx="879.4" cy="64.5" r="2.1"/><circle cx="852.8" cy="63.3" r="2.1"/><circle cx="852.3" cy="67.1" r="2.1"/><circle cx="981.5" cy="133.0" r="2.1"/><circle cx="841.8" cy="60.8" r="2.1"/><circle cx="818.0" cy="59.3" r="2.1"/><circle cx="895.3" cy="70.1" r="2.1"/><circle cx="912.7" cy="80.1" r="2.1"/><circle cx="895.1" cy="73.9" r="2.1"/><circle cx="956.4" cy="103.0" r="2.1"/><circle cx="963.2" cy="112.9" r="2.1"/><circle cx="909.2" cy="72.4" r="2.1"/><circle cx="864.1" cy="62.7" r="2.1"/><circle cx="950.5" cy="105.5" r="2.1"/><circle cx="816.7" cy="58.5" r="2.1"/><circle cx="954.5" cy="106.6" r="2.1"/><circle cx="862.7" cy="67.4" r="2.1"/><circle cx="909.0" cy="78.0" r="2.1"/><circle cx="978.2" cy="136.8" r="2.1"/><circle cx="848.9" cy="62.8" r="2.1"/><circle cx="927.2" cy="80.9" r="2.1"/><circle cx="976.4" cy="133.8" r="2.1"/><circle cx="869.7" cy="63.1" r="2.1"/><circle cx="908.3" cy="71.9" r="2.1"/><circle cx="806.7" cy="59.5" r="2.1"/><circle cx="955.8" cy="106.4" r="2.1"/><circle cx="926.0" cy="88.4" r="2.1"/><circle cx="827.2" cy="62.2" r="2.1"/><circle cx="907.9" cy="76.2" r="2.1"/><circle cx="983.7" cy="138.3" r="2.1"/><circle cx="839.8" cy="64.0" r="2.1"/><circle cx="870.0" cy="64.2" r="2.1"/><circle cx="952.8" cy="103.3" r="2.1"/><circle cx="979.0" cy="132.1" r="2.1"/><circle cx="901.5" cy="69.1" r="2.1"/><circle cx="947.6" cy="95.2" r="2.1"/><circle cx="930.5" cy="91.2" r="2.1"/><circle cx="859.5" cy="64.6" r="2.1"/><circle cx="969.9" cy="115.3" r="2.1"/><circle cx="839.4" cy="63.1" r="2.1"/><circle cx="972.6" cy="127.6" r="2.1"/><circle cx="888.0" cy="66.5" r="2.1"/><circle cx="922.9" cy="83.9" r="2.1"/><circle cx="937.1" cy="92.0" r="2.1"/><circle cx="958.8" cy="105.5" r="2.1"/><circle cx="925.8" cy="85.2" r="2.1"/><circle cx="898.0" cy="69.5" r="2.1"/><circle cx="878.1" cy="67.4" r="2.1"/><circle cx="927.0" cy="81.9" r="2.1"/><circle cx="876.9" cy="64.9" r="2.1"/><circle cx="947.7" cy="101.0" r="2.1"/><circle cx="952.1" cy="104.3" r="2.1"/><circle cx="860.3" cy="66.5" r="2.1"/><circle cx="933.7" cy="89.3" r="2.1"/><circle cx="974.1" cy="119.8" r="2.1"/><circle cx="932.0" cy="93.5" r="2.1"/><circle cx="975.7" cy="127.8" r="2.1"/><circle cx="851.8" cy="58.6" r="2.1"/><circle cx="914.9" cy="80.2" r="2.1"/><circle cx="937.8" cy="95.3" r="2.1"/><circle cx="893.7" cy="69.2" r="2.1"/><circle cx="934.3" cy="84.5" r="2.1"/><circle cx="826.4" cy="60.5" r="2.1"/><circle cx="839.2" cy="60.3" r="2.1"/><circle cx="929.1" cy="86.4" r="2.1"/><circle cx="946.3" cy="95.5" r="2.1"/><circle cx="977.7" cy="134.9" r="2.1"/><circle cx="826.0" cy="56.7" r="2.1"/><circle cx="960.5" cy="113.2" r="2.1"/><circle cx="921.4" cy="81.3" r="2.1"/><circle cx="974.6" cy="125.7" r="2.1"/><circle cx="899.1" cy="74.4" r="2.1"/><circle cx="883.3" cy="65.0" r="2.1"/><circle cx="859.1" cy="64.5" r="2.1"/><circle cx="959.5" cy="108.4" r="2.1"/><circle cx="942.4" cy="97.2" r="2.1"/><circle cx="872.9" cy="62.5" r="2.1"/><circle cx="902.7" cy="68.6" r="2.1"/><circle cx="845.6" cy="66.6" r="2.1"/><circle cx="803.6" cy="61.9" r="2.1"/><circle cx="948.5" cy="101.3" r="2.1"/><circle cx="985.6" cy="139.5" r="2.1"/><circle cx="858.5" cy="62.9" r="2.1"/><circle cx="848.7" cy="67.0" r="2.1"/><circle cx="890.1" cy="66.1" r="2.1"/><circle cx="981.6" cy="135.2" r="2.1"/><circle cx="807.7" cy="61.3" r="2.1"/><circle cx="947.1" cy="95.5" r="2.1"/><circle cx="948.8" cy="99.4" r="2.1"/><circle cx="953.8" cy="102.0" r="2.1"/><circle cx="911.8" cy="74.7" r="2.1"/><circle cx="912.0" cy="82.1" r="2.1"/><circle cx="921.3" cy="79.2" r="2.1"/><circle cx="902.3" cy="73.4" r="2.1"/><circle cx="947.7" cy="97.8" r="2.1"/><circle cx="930.9" cy="83.4" r="2.1"/><circle cx="978.8" cy="130.2" r="2.1"/><circle cx="863.2" cy="66.8" r="2.1"/><circle cx="936.9" cy="94.3" r="2.1"/><circle cx="858.0" cy="61.2" r="2.1"/><circle cx="900.2" cy="69.8" r="2.1"/><circle cx="868.9" cy="60.4" r="2.1"/><circle cx="969.2" cy="114.3" r="2.1"/><circle cx="929.2" cy="83.8" r="2.1"/><circle cx="981.3" cy="133.4" r="2.1"/><circle cx="868.5" cy="60.2" r="2.1"/><circle cx="891.8" cy="66.1" r="2.1"/><circle cx="835.5" cy="65.4" r="2.1"/><circle cx="930.4" cy="85.9" r="2.1"/><circle cx="929.0" cy="90.1" r="2.1"/><circle cx="927.6" cy="83.8" r="2.1"/><circle cx="911.2" cy="75.9" r="2.1"/><circle cx="898.5" cy="76.0" r="2.1"/><circle cx="839.3" cy="65.0" r="2.1"/><circle cx="985.0" cy="138.8" r="2.1"/><circle cx="881.3" cy="66.5" r="2.1"/><circle cx="905.3" cy="77.9" r="2.1"/><circle cx="804.7" cy="60.9" r="2.1"/><circle cx="931.6" cy="88.8" r="2.1"/><circle cx="972.8" cy="126.7" r="2.1"/><circle cx="842.3" cy="65.5" r="2.1"/><circle cx="946.9" cy="101.7" r="2.1"/><circle cx="867.4" cy="62.3" r="2.1"/><circle cx="940.2" cy="93.3" r="2.1"/><circle cx="936.2" cy="85.6" r="2.1"/><circle cx="977.4" cy="132.8" r="2.1"/><circle cx="918.2" cy="82.3" r="2.1"/><circle cx="948.2" cy="104.3" r="2.1"/><circle cx="934.2" cy="89.6" r="2.1"/><circle cx="913.4" cy="76.6" r="2.1"/><circle cx="970.1" cy="118.7" r="2.1"/><circle cx="897.5" cy="72.7" r="2.1"/><circle cx="963.5" cy="115.3" r="2.1"/><circle cx="864.7" cy="64.9" r="2.1"/><circle cx="886.2" cy="65.5" r="2.1"/><circle cx="970.6" cy="114.6" r="2.1"/><circle cx="925.4" cy="80.2" r="2.1"/><circle cx="891.4" cy="72.4" r="2.1"/><circle cx="950.5" cy="99.2" r="2.1"/><circle cx="945.8" cy="100.8" r="2.1"/><circle cx="932.2" cy="82.7" r="2.1"/><circle cx="952.3" cy="101.8" r="2.1"/><circle cx="964.4" cy="115.8" r="2.1"/><circle cx="874.0" cy="68.5" r="2.1"/><circle cx="925.8" cy="84.2" r="2.1"/><circle cx="835.4" cy="61.7" r="2.1"/><circle cx="877.4" cy="61.8" r="2.1"/><circle cx="833.6" cy="60.2" r="2.1"/><circle cx="916.3" cy="76.3" r="2.1"/><circle cx="983.8" cy="137.6" r="2.1"/><circle cx="929.7" cy="92.6" r="2.1"/><circle cx="822.7" cy="60.2" r="2.1"/><circle cx="973.6" cy="133.0" r="2.1"/><circle cx="937.2" cy="93.3" r="2.1"/><circle cx="985.2" cy="138.2" r="2.1"/><circle cx="899.7" cy="68.5" r="2.1"/><circle cx="892.7" cy="72.9" r="2.1"/><circle cx="945.5" cy="95.4" r="2.1"/><circle cx="949.4" cy="100.5" r="2.1"/><circle cx="944.2" cy="91.8" r="2.1"/><circle cx="962.1" cy="112.9" r="2.1"/><circle cx="841.8" cy="60.6" r="2.1"/><circle cx="943.4" cy="93.6" r="2.1"/><circle cx="900.5" cy="73.8" r="2.1"/><circle cx="977.7" cy="138.0" r="2.1"/><circle cx="767.0" cy="59.5" r="2.1"/><circle cx="780.9" cy="56.9" r="2.1"/><circle cx="788.8" cy="56.0" r="2.1"/><circle cx="789.7" cy="59.1" r="2.1"/><circle cx="791.7" cy="62.1" r="2.1"/><circle cx="796.5" cy="58.4" r="2.1"/><circle cx="792.6" cy="61.8" r="2.1"/><circle cx="816.7" cy="52.2" r="2.1"/><circle cx="826.0" cy="54.7" r="2.1"/><circle cx="852.6" cy="53.2" r="2.1"/><circle cx="859.0" cy="55.6" r="2.1"/><circle cx="865.5" cy="57.0" r="2.1"/><circle cx="870.3" cy="56.0" r="2.1"/><circle cx="879.6" cy="52.6" r="2.1"/><circle cx="881.2" cy="59.1" r="2.1"/><circle cx="909.9" cy="66.4" r="2.1"/><circle cx="917.9" cy="65.0" r="2.1"/><circle cx="920.1" cy="72.3" r="2.1"/><circle cx="919.5" cy="74.7" r="2.1"/><circle cx="965.3" cy="97.8" r="2.1"/><circle cx="968.2" cy="101.7" r="2.1"/><circle cx="964.6" cy="103.7" r="2.1"/><circle cx="967.7" cy="102.4" r="2.1"/><circle cx="967.4" cy="109.0" r="2.1"/><circle cx="980.6" cy="116.3" r="2.1"/><circle cx="977.4" cy="114.9" r="2.1"/><circle cx="988.0" cy="144.3" r="2.1"/><circle cx="991.5" cy="145.3" r="2.1"/><circle cx="987.0" cy="146.4" r="2.1"/><circle cx="981.0" cy="147.5" r="2.1"/><circle cx="981.5" cy="149.1" r="2.1"/><circle cx="985.0" cy="148.6" r="2.1"/><circle cx="989.0" cy="149.6" r="2.1"/><circle cx="987.5" cy="152.9" r="2.1"/><circle cx="991.0" cy="152.9" r="2.1"/><circle cx="995.0" cy="152.9" r="2.1"/><circle cx="1000.5" cy="156.8" r="2.1"/><circle cx="994.0" cy="158.2" r="2.1"/><circle cx="997.0" cy="159.9" r="2.1"/><circle cx="993.5" cy="159.3" r="2.1"/><circle cx="996.8" cy="159.7" r="2.1"/><circle cx="999.6" cy="159.7" r="2.1"/><circle cx="998.2" cy="163.8" r="2.1"/><circle cx="1001.0" cy="162.8" r="2.1"/><circle cx="992.5" cy="164.6" r="2.1"/></g>
<g shape-rendering="crispEdges"><rect x="750" y="24" width="1" height="201" fill="#919191"/><rect x="751" y="24" width="1" height="201" fill="#b9b9b9"/><rect x="1016" y="24" width="1" height="201" fill="#aaaaaa"/><rect x="1017" y="24" width="1" height="201" fill="#9b9b9b"/><rect x="750" y="24" width="268" height="1" fill="#afafaf"/><rect x="750" y="224" width="268" height="1" fill="#afafaf"/></g>
<g fill="#5a5a5a" shape-rendering="crispEdges"><rect x="804" y="221" width="1" height="3"/><rect x="804" y="25" width="1" height="2"/><rect x="857" y="221" width="1" height="3"/><rect x="857" y="25" width="1" height="2"/><rect x="910" y="221" width="1" height="3"/><rect x="910" y="25" width="1" height="2"/><rect x="964" y="221" width="1" height="3"/><rect x="964" y="25" width="1" height="2"/></g>
<g shape-rendering="crispEdges"><rect x="751" y="191" width="3" height="1" fill="#969696"/><rect x="1014" y="191" width="3" height="1" fill="#6e6e6e"/><rect x="751" y="157" width="3" height="1" fill="#969696"/><rect x="1014" y="157" width="3" height="1" fill="#6e6e6e"/><rect x="751" y="124" width="3" height="1" fill="#969696"/><rect x="1014" y="124" width="3" height="1" fill="#6e6e6e"/><rect x="751" y="91" width="3" height="1" fill="#969696"/><rect x="1014" y="91" width="3" height="1" fill="#6e6e6e"/><rect x="751" y="57" width="3" height="1" fill="#969696"/><rect x="1014" y="57" width="3" height="1" fill="#6e6e6e"/></g>
<text x="748.7" y="240" text-anchor="middle" class="t">-3</text>
<text x="802.1" y="240" text-anchor="middle" class="t">-2</text>
<text x="855.5" y="240" text-anchor="middle" class="t">-1</text>
<text x="910.7" y="240" text-anchor="middle" class="t">0</text>
<text x="964.1" y="240" text-anchor="middle" class="t">1</text>
<text x="1017.5" y="240" text-anchor="middle" class="t">2</text>
<text x="747.5" y="229.0" text-anchor="end" class="t">1.9</text>
<text x="747.5" y="195.7" text-anchor="end" class="t">2</text>
<text x="747.5" y="162.3" text-anchor="end" class="t">2.1</text>
<text x="747.5" y="129.0" text-anchor="end" class="t">2.2</text>
<text x="747.5" y="95.7" text-anchor="end" class="t">2.3</text>
<text x="747.5" y="62.3" text-anchor="end" class="t">2.4</text>
<text x="747.5" y="29.0" text-anchor="end" class="t">2.5</text>
<text x="880.6" y="256.4" text-anchor="middle" class="t">ln(WVC)</text>
<text x="772.7" y="14.2" class="t">cos(sza) = 1.0</text>
<text x="892.5" y="14.2" class="t">1/cos(vza) = 1.4</text>
<text transform="translate(719.9,125.5) rotate(-90)" text-anchor="middle" class="t">Direct solar radiance W/(m<tspan dy="-6" font-size="10">2</tspan><tspan dy="6">·sr·um)</tspan></text>
</svg>
</body></html>
